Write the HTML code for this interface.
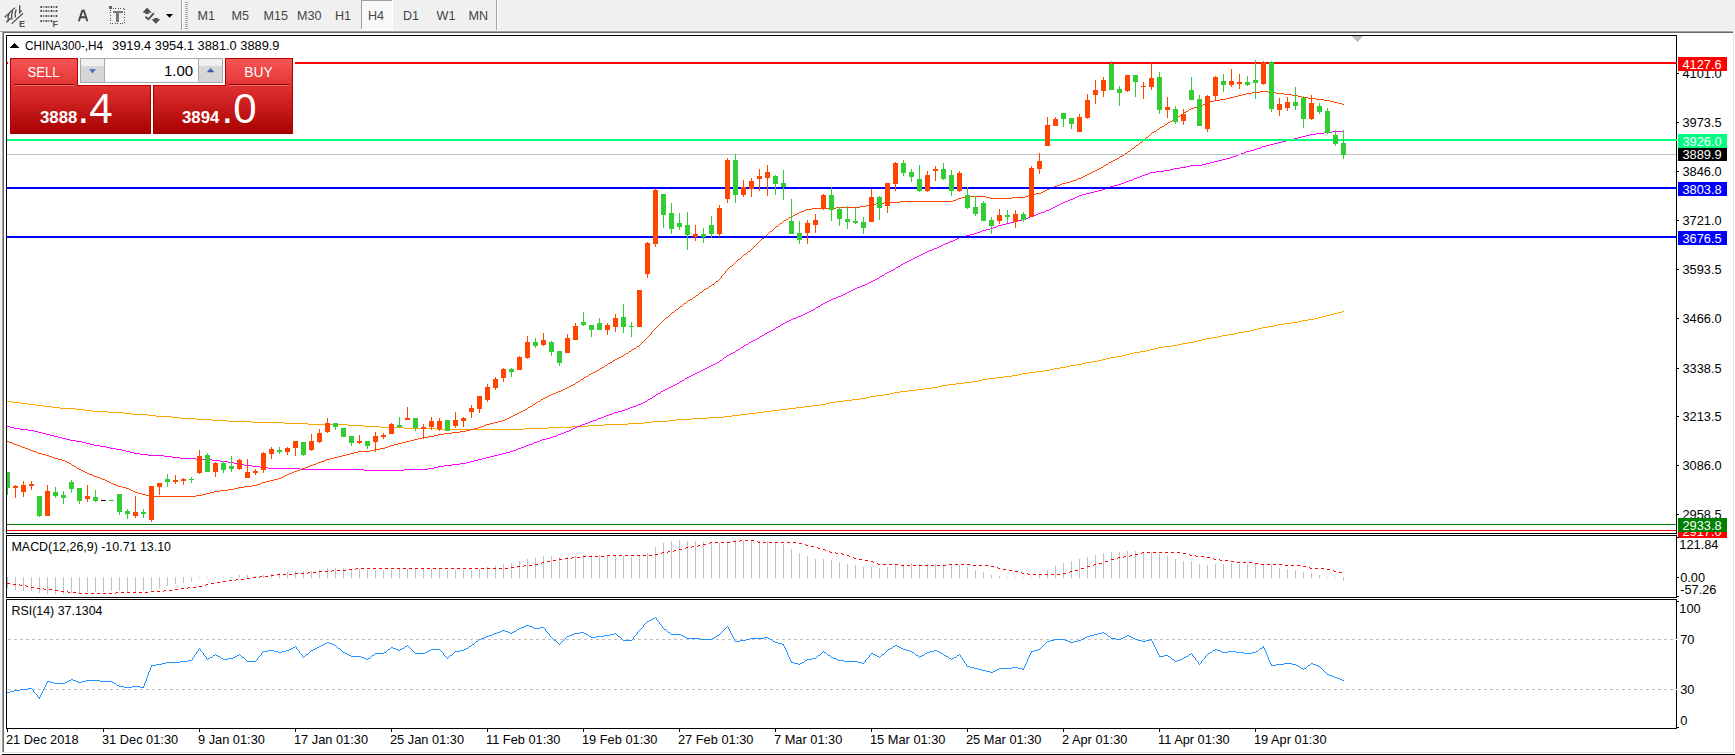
<!DOCTYPE html>
<html><head><meta charset="utf-8"><style>
html,body{margin:0;padding:0;width:1735px;height:755px;overflow:hidden;background:#f0f0f0}
svg{display:block}
text{font-family:'Liberation Sans',sans-serif}
</style></head><body>
<svg width="1735" height="755" viewBox="0 0 1735 755" shape-rendering="crispEdges">
<rect x="0" y="0" width="1735" height="755" fill="#f0f0f0" />
<rect x="4" y="33" width="1729" height="719" fill="#ffffff" />
<rect x="0" y="30" width="1736" height="1" fill="#f6f6f6"/>
<rect x="0" y="31" width="1734" height="1" fill="#a0a0a0"/>
<rect x="3" y="32" width="1730" height="1" fill="#696969"/>
<rect x="2" y="32" width="1" height="721" fill="#a0a0a0"/>
<rect x="3" y="32" width="1" height="720" fill="#696969"/>
<rect x="1" y="32" width="1" height="722" fill="#fbfbfb"/>
<rect x="1733" y="31" width="1" height="722" fill="#e3e3e3"/>
<rect x="2" y="752" width="1732" height="1" fill="#e3e3e3"/>
<rect x="0" y="753" width="1735" height="1" fill="#ffffff"/>
<rect x="1734" y="31" width="1" height="723" fill="#ffffff"/>
<rect x="2" y="754" width="1734" height="1" fill="#000000"/>
<defs><clipPath id="cm"><rect x="7" y="36" width="1669" height="497"/></clipPath><clipPath id="cd"><rect x="7" y="536" width="1669" height="61"/></clipPath><clipPath id="cr"><rect x="7" y="600" width="1669" height="128"/></clipPath></defs>
<g clip-path="url(#cm)">
<path d="M7,401h5v1h-5zM836,401h8v1h-8zM12,402h8v1h-8zM830,402h6v1h-6zM20,403h8v1h-8zM826,403h4v1h-4zM28,404h8v1h-8zM820,404h6v1h-6zM36,405h8v1h-8zM812,405h8v1h-8zM44,406h8v1h-8zM804,406h8v1h-8zM52,407h8v1h-8zM796,407h8v1h-8zM60,408h16v1h-16zM788,408h8v1h-8zM76,409h8v1h-8zM780,409h8v1h-8zM84,410h8v1h-8zM772,410h8v1h-8zM92,411h16v1h-16zM764,411h8v1h-8zM108,412h16v1h-16zM756,412h8v1h-8zM124,413h8v1h-8zM748,413h8v1h-8zM132,414h16v1h-16zM740,414h8v1h-8zM148,415h8v1h-8zM732,415h8v1h-8zM156,416h16v1h-16zM724,416h8v1h-8zM172,417h8v1h-8zM708,417h16v1h-16zM180,418h16v1h-16zM692,418h16v1h-16zM196,419h16v1h-16zM676,419h16v1h-16zM212,420h16v1h-16zM668,420h8v1h-8zM228,421h24v1h-24zM652,421h16v1h-16zM252,422h32v1h-32zM644,422h8v1h-8zM284,423h24v1h-24zM628,423h16v1h-16zM308,424h40v1h-40zM604,424h24v1h-24zM348,425h16v1h-16zM588,425h16v1h-16zM364,426h16v1h-16zM572,426h16v1h-16zM380,427h24v1h-24zM548,427h24v1h-24zM404,428h32v1h-32zM524,428h24v1h-24zM436,429h88v1h-88zM844,400h8v1h-8zM852,399h8v1h-8zM860,398h6v1h-6zM866,397h4v1h-4zM870,396h6v1h-6zM876,395h8v1h-8zM884,394h6v1h-6zM890,393h4v1h-4zM894,392h6v1h-6zM900,391h8v1h-8zM908,390h8v1h-8zM916,389h8v1h-8zM924,388h8v1h-8zM932,387h6v1h-6zM938,386h4v1h-4zM942,385h6v1h-6zM948,384h8v1h-8zM956,383h8v1h-8zM964,382h8v1h-8zM972,381h6v1h-6zM978,380h4v1h-4zM982,379h6v1h-6zM988,378h8v1h-8zM996,377h8v1h-8zM1004,376h8v1h-8zM1012,375h6v1h-6zM1018,374h4v1h-4zM1022,373h6v1h-6zM1028,372h8v1h-8zM1036,371h8v1h-8zM1044,370h6v1h-6zM1050,369h4v1h-4zM1054,368h6v1h-6zM1060,367h6v1h-6zM1066,366h4v1h-4zM1070,365h6v1h-6zM1076,364h6v1h-6zM1082,363h4v1h-4zM1086,362h6v1h-6zM1092,361h6v1h-6zM1098,360h4v1h-4zM1102,359h4v1h-4zM1106,358h4v1h-4zM1110,357h6v1h-6zM1116,356h6v1h-6zM1122,355h4v1h-4zM1126,354h4v1h-4zM1130,353h4v1h-4zM1134,352h6v1h-6zM1140,351h6v1h-6zM1146,350h4v1h-4zM1150,349h4v1h-4zM1154,348h4v1h-4zM1158,347h6v1h-6zM1164,346h8v1h-8zM1172,345h6v1h-6zM1178,344h4v1h-4zM1182,343h6v1h-6zM1188,342h6v1h-6zM1194,341h4v1h-4zM1198,340h4v1h-4zM1202,339h4v1h-4zM1206,338h6v1h-6zM1212,337h6v1h-6zM1218,336h4v1h-4zM1222,335h6v1h-6zM1228,334h6v1h-6zM1234,333h4v1h-4zM1238,332h6v1h-6zM1244,331h6v1h-6zM1250,330h4v1h-4zM1254,329h4v1h-4zM1258,328h4v1h-4zM1262,327h6v1h-6zM1268,326h6v1h-6zM1274,325h4v1h-4zM1278,324h6v1h-6zM1284,323h8v1h-8zM1292,322h6v1h-6zM1298,321h4v1h-4zM1302,320h6v1h-6zM1308,319h6v1h-6zM1314,318h4v1h-4zM1318,317h4v1h-4zM1322,316h4v1h-4zM1326,315h4v1h-4zM1330,314h4v1h-4zM1334,313h4v1h-4zM1338,312h4v1h-4zM1342,311h2v1h-2z" fill="#ffa500" />
<path d="M7,426h3v1h-3zM577,426h3v1h-3zM10,427h4v1h-4zM575,427h2v1h-2zM14,428h6v1h-6zM573,428h2v1h-2zM20,429h8v1h-8zM571,429h2v1h-2zM28,430h6v1h-6zM569,430h2v1h-2zM34,431h4v1h-4zM566,431h3v1h-3zM38,432h4v1h-4zM564,432h2v1h-2zM42,433h4v1h-4zM561,433h3v1h-3zM46,434h4v1h-4zM558,434h3v1h-3zM50,435h4v1h-4zM556,435h2v1h-2zM54,436h4v1h-4zM553,436h3v1h-3zM58,437h4v1h-4zM550,437h3v1h-3zM62,438h4v1h-4zM546,438h4v1h-4zM66,439h4v1h-4zM542,439h4v1h-4zM70,440h6v1h-6zM540,440h2v1h-2zM76,441h6v1h-6zM537,441h3v1h-3zM82,442h4v1h-4zM534,442h3v1h-3zM86,443h4v1h-4zM532,443h2v1h-2zM90,444h4v1h-4zM529,444h3v1h-3zM94,445h6v1h-6zM526,445h3v1h-3zM100,446h6v1h-6zM524,446h2v1h-2zM106,447h4v1h-4zM521,447h3v1h-3zM110,448h6v1h-6zM518,448h3v1h-3zM116,449h6v1h-6zM516,449h2v1h-2zM122,450h4v1h-4zM513,450h3v1h-3zM126,451h4v1h-4zM510,451h3v1h-3zM130,452h4v1h-4zM506,452h4v1h-4zM134,453h6v1h-6zM502,453h4v1h-4zM140,454h8v1h-8zM498,454h4v1h-4zM148,455h16v1h-16zM494,455h4v1h-4zM164,456h8v1h-8zM490,456h4v1h-4zM172,457h8v1h-8zM486,457h4v1h-4zM180,458h16v1h-16zM482,458h4v1h-4zM196,459h16v1h-16zM478,459h4v1h-4zM212,460h8v1h-8zM474,460h4v1h-4zM220,461h8v1h-8zM470,461h4v1h-4zM228,462h6v1h-6zM466,462h4v1h-4zM234,463h4v1h-4zM460,463h6v1h-6zM238,464h6v1h-6zM452,464h8v1h-8zM244,465h8v1h-8zM444,465h8v1h-8zM252,466h8v1h-8zM438,466h6v1h-6zM260,467h8v1h-8zM434,467h4v1h-4zM268,468h32v1h-32zM428,468h6v1h-6zM300,469h64v1h-64zM404,469h24v1h-24zM364,470h40v1h-40zM580,425h2v1h-2zM582,424h3v1h-3zM585,423h3v1h-3zM588,422h2v1h-2zM590,421h3v1h-3zM593,420h3v1h-3zM596,419h2v1h-2zM598,418h3v1h-3zM601,417h3v1h-3zM604,416h2v1h-2zM606,415h3v1h-3zM609,414h3v1h-3zM612,413h2v1h-2zM614,412h4v1h-4zM618,411h4v1h-4zM622,410h3v1h-3zM625,409h3v1h-3zM628,408h2v1h-2zM630,407h3v1h-3zM633,406h3v1h-3zM636,405h2v1h-2zM638,404h3v1h-3zM641,403h2v1h-2zM643,402h2v1h-2zM645,401h2v1h-2zM647,400h1v1h-1zM648,399h2v1h-2zM650,398h2v1h-2zM652,397h1v1h-1zM653,396h2v1h-2zM655,395h1v1h-1zM656,394h2v1h-2zM658,393h2v1h-2zM660,392h1v1h-1zM661,391h2v1h-2zM663,390h2v1h-2zM665,389h2v1h-2zM667,388h2v1h-2zM669,387h2v1h-2zM671,386h2v1h-2zM673,385h2v1h-2zM675,384h2v1h-2zM677,383h2v1h-2zM679,382h1v1h-1zM680,381h2v1h-2zM682,380h2v1h-2zM684,379h1v1h-1zM685,378h2v1h-2zM687,377h2v1h-2zM689,376h2v1h-2zM691,375h2v1h-2zM693,374h2v1h-2zM695,373h2v1h-2zM697,372h2v1h-2zM699,371h2v1h-2zM701,370h2v1h-2zM703,369h2v1h-2zM705,368h2v1h-2zM707,367h2v1h-2zM709,366h2v1h-2zM711,365h2v1h-2zM713,364h2v1h-2zM715,363h2v1h-2zM717,362h2v1h-2zM719,361h1v1h-1zM720,360h2v1h-2zM722,359h1v1h-1zM723,358h1v1h-1zM724,357h2v1h-2zM726,356h1v1h-1zM727,355h2v1h-2zM729,354h2v1h-2zM731,353h2v1h-2zM733,352h2v1h-2zM735,351h1v1h-1zM736,350h2v1h-2zM738,349h2v1h-2zM740,348h1v1h-1zM741,347h2v1h-2zM743,346h1v1h-1zM744,345h2v1h-2zM746,344h2v1h-2zM748,343h1v1h-1zM749,342h2v1h-2zM751,341h2v1h-2zM753,340h2v1h-2zM755,339h2v1h-2zM757,338h2v1h-2zM759,337h1v1h-1zM760,336h2v1h-2zM762,335h2v1h-2zM764,334h1v1h-1zM765,333h2v1h-2zM767,332h2v1h-2zM769,331h2v1h-2zM771,330h2v1h-2zM773,329h2v1h-2zM775,328h1v1h-1zM776,327h2v1h-2zM778,326h2v1h-2zM780,325h1v1h-1zM781,324h2v1h-2zM783,323h2v1h-2zM785,322h2v1h-2zM787,321h2v1h-2zM789,320h2v1h-2zM791,319h2v1h-2zM793,318h3v1h-3zM796,317h2v1h-2zM798,316h3v1h-3zM801,315h2v1h-2zM803,314h2v1h-2zM805,313h2v1h-2zM807,312h2v1h-2zM809,311h2v1h-2zM811,310h2v1h-2zM813,309h2v1h-2zM815,308h1v1h-1zM816,307h2v1h-2zM818,306h2v1h-2zM820,305h1v1h-1zM821,304h2v1h-2zM823,303h2v1h-2zM825,302h2v1h-2zM827,301h2v1h-2zM829,300h2v1h-2zM831,299h2v1h-2zM833,298h3v1h-3zM836,297h2v1h-2zM838,296h3v1h-3zM841,295h2v1h-2zM843,294h2v1h-2zM845,293h2v1h-2zM847,292h2v1h-2zM849,291h2v1h-2zM851,290h2v1h-2zM853,289h2v1h-2zM855,288h2v1h-2zM857,287h3v1h-3zM860,286h2v1h-2zM862,285h3v1h-3zM865,284h2v1h-2zM867,283h2v1h-2zM869,282h2v1h-2zM871,281h2v1h-2zM873,280h2v1h-2zM875,279h2v1h-2zM877,278h2v1h-2zM879,277h1v1h-1zM880,276h2v1h-2zM882,275h2v1h-2zM884,274h1v1h-1zM885,273h2v1h-2zM887,272h2v1h-2zM889,271h2v1h-2zM891,270h2v1h-2zM893,269h2v1h-2zM895,268h1v1h-1zM896,267h2v1h-2zM898,266h2v1h-2zM900,265h1v1h-1zM901,264h2v1h-2zM903,263h2v1h-2zM905,262h2v1h-2zM907,261h2v1h-2zM909,260h2v1h-2zM911,259h2v1h-2zM913,258h2v1h-2zM915,257h2v1h-2zM917,256h2v1h-2zM919,255h2v1h-2zM921,254h2v1h-2zM923,253h2v1h-2zM925,252h2v1h-2zM927,251h2v1h-2zM929,250h3v1h-3zM932,249h2v1h-2zM934,248h3v1h-3zM937,247h2v1h-2zM939,246h2v1h-2zM941,245h2v1h-2zM943,244h2v1h-2zM945,243h3v1h-3zM948,242h2v1h-2zM950,241h3v1h-3zM953,240h2v1h-2zM955,239h2v1h-2zM957,238h2v1h-2zM959,237h3v1h-3zM962,236h4v1h-4zM966,235h4v1h-4zM970,234h4v1h-4zM974,233h3v1h-3zM977,232h3v1h-3zM980,231h2v1h-2zM982,230h4v1h-4zM986,229h4v1h-4zM990,228h3v1h-3zM993,227h3v1h-3zM996,226h2v1h-2zM998,225h4v1h-4zM1002,224h4v1h-4zM1006,223h4v1h-4zM1010,222h4v1h-4zM1014,221h4v1h-4zM1018,220h4v1h-4zM1022,219h3v1h-3zM1025,218h3v1h-3zM1028,217h2v1h-2zM1030,216h3v1h-3zM1033,215h3v1h-3zM1036,214h2v1h-2zM1038,213h3v1h-3zM1041,212h3v1h-3zM1044,211h2v1h-2zM1046,210h3v1h-3zM1049,209h2v1h-2zM1051,208h2v1h-2zM1053,207h2v1h-2zM1055,206h2v1h-2zM1057,205h2v1h-2zM1059,204h2v1h-2zM1061,203h2v1h-2zM1063,202h2v1h-2zM1065,201h3v1h-3zM1068,200h2v1h-2zM1070,199h3v1h-3zM1073,198h2v1h-2zM1075,197h2v1h-2zM1077,196h2v1h-2zM1079,195h3v1h-3zM1082,194h4v1h-4zM1086,193h4v1h-4zM1090,192h4v1h-4zM1094,191h4v1h-4zM1098,190h4v1h-4zM1102,189h3v1h-3zM1105,188h3v1h-3zM1108,187h2v1h-2zM1110,186h4v1h-4zM1114,185h4v1h-4zM1118,184h3v1h-3zM1121,183h3v1h-3zM1124,182h2v1h-2zM1126,181h3v1h-3zM1129,180h3v1h-3zM1132,179h2v1h-2zM1134,178h3v1h-3zM1137,177h3v1h-3zM1140,176h2v1h-2zM1142,175h3v1h-3zM1145,174h3v1h-3zM1148,173h2v1h-2zM1150,172h6v1h-6zM1156,171h8v1h-8zM1164,170h6v1h-6zM1170,169h4v1h-4zM1174,168h6v1h-6zM1180,167h6v1h-6zM1186,166h4v1h-4zM1190,165h12v1h-12zM1202,164h4v1h-4zM1206,163h4v1h-4zM1210,162h4v1h-4zM1214,161h4v1h-4zM1218,160h4v1h-4zM1222,159h4v1h-4zM1226,158h4v1h-4zM1230,157h3v1h-3zM1233,156h3v1h-3zM1236,155h2v1h-2zM1238,154h3v1h-3zM1241,153h3v1h-3zM1244,152h2v1h-2zM1246,151h4v1h-4zM1250,150h4v1h-4zM1254,149h3v1h-3zM1257,148h3v1h-3zM1260,147h2v1h-2zM1262,146h4v1h-4zM1266,145h4v1h-4zM1270,144h4v1h-4zM1274,143h4v1h-4zM1278,142h4v1h-4zM1282,141h4v1h-4zM1286,140h4v1h-4zM1290,139h4v1h-4zM1294,138h4v1h-4zM1298,137h4v1h-4zM1302,136h4v1h-4zM1306,135h4v1h-4zM1310,134h6v1h-6zM1316,133h8v1h-8zM1324,132h8v1h-8zM1332,131h12v1h-12z" fill="#ff00ff" />
<path d="M7,441h2v1h-2zM406,441h4v1h-4zM9,442h3v1h-3zM402,442h4v1h-4zM12,443h2v1h-2zM398,443h4v1h-4zM14,444h3v1h-3zM394,444h4v1h-4zM17,445h3v1h-3zM390,445h4v1h-4zM20,446h2v1h-2zM388,446h2v1h-2zM22,447h3v1h-3zM385,447h3v1h-3zM25,448h3v1h-3zM380,448h5v1h-5zM28,449h2v1h-2zM374,449h6v1h-6zM30,450h3v1h-3zM370,450h4v1h-4zM33,451h3v1h-3zM358,451h12v1h-12zM36,452h2v1h-2zM354,452h4v1h-4zM38,453h4v1h-4zM350,453h4v1h-4zM42,454h4v1h-4zM346,454h4v1h-4zM46,455h3v1h-3zM342,455h4v1h-4zM49,456h3v1h-3zM338,456h4v1h-4zM52,457h2v1h-2zM334,457h4v1h-4zM54,458h4v1h-4zM330,458h4v1h-4zM58,459h4v1h-4zM326,459h4v1h-4zM62,460h3v1h-3zM324,460h2v1h-2zM65,461h2v1h-2zM321,461h3v1h-3zM67,462h2v1h-2zM318,462h3v1h-3zM69,463h2v1h-2zM316,463h2v1h-2zM71,464h1v1h-1zM313,464h3v1h-3zM72,465h2v1h-2zM310,465h3v1h-3zM74,466h2v1h-2zM308,466h2v1h-2zM76,467h1v1h-1zM305,467h3v1h-3zM77,468h2v1h-2zM302,468h3v1h-3zM79,469h2v1h-2zM300,469h2v1h-2zM81,470h2v1h-2zM297,470h3v1h-3zM83,471h2v1h-2zM294,471h3v1h-3zM85,472h2v1h-2zM292,472h2v1h-2zM87,473h2v1h-2zM289,473h3v1h-3zM89,474h3v1h-3zM287,474h2v1h-2zM92,475h2v1h-2zM285,475h2v1h-2zM94,476h3v1h-3zM283,476h2v1h-2zM97,477h3v1h-3zM281,477h2v1h-2zM100,478h2v1h-2zM278,478h3v1h-3zM102,479h3v1h-3zM274,479h4v1h-4zM105,480h2v1h-2zM270,480h4v1h-4zM107,481h2v1h-2zM266,481h4v1h-4zM109,482h2v1h-2zM262,482h4v1h-4zM111,483h2v1h-2zM260,483h2v1h-2zM113,484h3v1h-3zM257,484h3v1h-3zM116,485h2v1h-2zM252,485h5v1h-5zM118,486h4v1h-4zM244,486h8v1h-8zM122,487h4v1h-4zM238,487h6v1h-6zM126,488h3v1h-3zM234,488h4v1h-4zM129,489h2v1h-2zM228,489h6v1h-6zM131,490h2v1h-2zM220,490h8v1h-8zM133,491h2v1h-2zM214,491h6v1h-6zM135,492h3v1h-3zM210,492h4v1h-4zM138,493h4v1h-4zM206,493h4v1h-4zM142,494h4v1h-4zM202,494h4v1h-4zM146,495h4v1h-4zM196,495h6v1h-6zM150,496h46v1h-46zM410,440h4v1h-4zM414,439h4v1h-4zM418,438h4v1h-4zM422,437h6v1h-6zM428,436h6v1h-6zM434,435h4v1h-4zM438,434h6v1h-6zM444,433h8v1h-8zM452,432h8v1h-8zM460,431h6v1h-6zM466,430h4v1h-4zM470,429h4v1h-4zM474,428h4v1h-4zM478,427h3v1h-3zM481,426h3v1h-3zM484,425h2v1h-2zM486,424h4v1h-4zM490,423h4v1h-4zM494,422h4v1h-4zM498,421h4v1h-4zM502,420h3v1h-3zM505,419h2v1h-2zM507,418h2v1h-2zM509,417h2v1h-2zM511,416h2v1h-2zM513,415h2v1h-2zM515,414h2v1h-2zM517,413h2v1h-2zM519,412h2v1h-2zM521,411h2v1h-2zM523,410h2v1h-2zM525,409h2v1h-2zM527,408h1v1h-1zM528,407h2v1h-2zM530,406h2v1h-2zM532,405h1v1h-1zM533,404h2v1h-2zM535,403h1v1h-1zM536,402h2v1h-2zM538,401h2v1h-2zM540,400h1v1h-1zM541,399h2v1h-2zM543,398h2v1h-2zM545,397h2v1h-2zM547,396h2v1h-2zM549,395h2v1h-2zM551,394h2v1h-2zM553,393h3v1h-3zM556,392h2v1h-2zM558,391h3v1h-3zM561,390h2v1h-2zM563,389h2v1h-2zM565,388h2v1h-2zM567,387h2v1h-2zM569,386h2v1h-2zM571,385h2v1h-2zM573,384h2v1h-2zM575,383h1v1h-1zM576,382h2v1h-2zM578,381h2v1h-2zM580,380h1v1h-1zM581,379h2v1h-2zM583,378h1v1h-1zM584,377h2v1h-2zM586,376h2v1h-2zM588,375h1v1h-1zM589,374h2v1h-2zM591,373h2v1h-2zM593,372h2v1h-2zM595,371h2v1h-2zM597,370h2v1h-2zM599,369h1v1h-1zM600,368h2v1h-2zM602,367h2v1h-2zM604,366h1v1h-1zM605,365h2v1h-2zM607,364h1v1h-1zM608,363h2v1h-2zM610,362h2v1h-2zM612,361h1v1h-1zM613,360h2v1h-2zM615,359h2v1h-2zM617,358h2v1h-2zM619,357h2v1h-2zM621,356h2v1h-2zM623,355h1v1h-1zM624,354h2v1h-2zM626,353h2v1h-2zM628,352h1v1h-1zM629,351h2v1h-2zM631,350h1v1h-1zM632,349h2v1h-2zM634,348h2v1h-2zM636,347h1v1h-1zM637,346h2v1h-2zM639,345h1v1h-1zM640,344h1v1h-1zM641,343h1v1h-1zM642,342h1v1h-1zM643,341h1v1h-1zM644,340h1v1h-1zM645,339h1v1h-1zM646,338h1v1h-1zM647,337h1v1h-1zM648,336h1v1h-1zM649,335h1v1h-1zM650,334h1v1h-1zM651,333h1v1h-1zM651,332h1v1h-1zM652,331h1v1h-1zM653,330h1v1h-1zM654,329h1v1h-1zM655,328h1v1h-1zM656,327h1v1h-1zM657,326h1v1h-1zM658,325h1v1h-1zM659,324h1v1h-1zM660,323h1v1h-1zM661,322h1v1h-1zM662,321h1v1h-1zM663,320h1v1h-1zM664,319h1v1h-1zM665,318h1v1h-1zM666,317h2v1h-2zM668,316h1v1h-1zM669,315h1v1h-1zM670,314h1v1h-1zM671,313h1v1h-1zM672,312h2v1h-2zM674,311h1v1h-1zM675,310h1v1h-1zM676,309h2v1h-2zM678,308h1v1h-1zM679,307h1v1h-1zM680,306h2v1h-2zM682,305h1v1h-1zM683,304h1v1h-1zM684,303h2v1h-2zM686,302h1v1h-1zM687,301h1v1h-1zM688,300h2v1h-2zM690,299h2v1h-2zM692,298h1v1h-1zM693,297h2v1h-2zM695,296h1v1h-1zM696,295h2v1h-2zM698,294h1v1h-1zM699,293h1v1h-1zM700,292h2v1h-2zM702,291h1v1h-1zM703,290h1v1h-1zM704,289h2v1h-2zM706,288h2v1h-2zM708,287h1v1h-1zM709,286h2v1h-2zM711,285h1v1h-1zM712,284h2v1h-2zM714,283h1v1h-1zM715,282h1v1h-1zM716,281h2v1h-2zM718,280h1v1h-1zM719,279h1v1h-1zM720,278h1v1h-1zM721,277h1v1h-1zM721,276h1v1h-1zM722,275h1v1h-1zM723,274h1v1h-1zM724,273h1v1h-1zM725,272h1v1h-1zM725,271h1v1h-1zM726,270h1v1h-1zM727,269h1v1h-1zM728,268h1v1h-1zM729,267h1v1h-1zM730,266h2v1h-2zM732,265h1v1h-1zM733,264h1v1h-1zM734,263h1v1h-1zM735,262h1v1h-1zM736,261h1v1h-1zM737,260h1v1h-1zM738,259h2v1h-2zM740,258h1v1h-1zM741,257h1v1h-1zM742,256h1v1h-1zM743,255h1v1h-1zM744,254h2v1h-2zM746,253h1v1h-1zM747,252h1v1h-1zM748,251h2v1h-2zM750,250h1v1h-1zM751,249h1v1h-1zM752,248h1v1h-1zM753,247h1v1h-1zM754,246h1v1h-1zM755,245h1v1h-1zM756,244h1v1h-1zM757,243h1v1h-1zM758,242h1v1h-1zM759,241h1v1h-1zM760,240h1v1h-1zM761,239h1v1h-1zM762,238h2v1h-2zM764,237h1v1h-1zM765,236h1v1h-1zM766,235h1v1h-1zM767,234h1v1h-1zM768,233h1v1h-1zM769,232h1v1h-1zM770,231h2v1h-2zM772,230h1v1h-1zM773,229h1v1h-1zM774,228h1v1h-1zM775,227h1v1h-1zM776,226h2v1h-2zM778,225h1v1h-1zM779,224h1v1h-1zM780,223h2v1h-2zM782,222h1v1h-1zM783,221h1v1h-1zM784,220h2v1h-2zM786,219h2v1h-2zM788,218h1v1h-1zM789,217h2v1h-2zM791,216h2v1h-2zM793,215h2v1h-2zM795,214h2v1h-2zM797,213h2v1h-2zM799,212h2v1h-2zM801,211h3v1h-3zM804,210h2v1h-2zM806,209h6v1h-6zM812,208h24v1h-24zM836,207h24v1h-24zM860,206h6v1h-6zM866,205h4v1h-4zM870,204h6v1h-6zM876,203h8v1h-8zM884,202h16v1h-16zM900,201h53v1h-53zM953,200h3v1h-3zM956,199h2v1h-2zM958,198h4v1h-4zM990,198h22v1h-22zM962,197h4v1h-4zM986,197h4v1h-4zM1012,197h13v1h-13zM966,196h20v1h-20zM1025,196h3v1h-3zM1028,195h2v1h-2zM1030,194h6v1h-6zM1036,193h5v1h-5zM1041,192h2v1h-2zM1043,191h2v1h-2zM1045,190h2v1h-2zM1047,189h2v1h-2zM1049,188h3v1h-3zM1052,187h2v1h-2zM1054,186h3v1h-3zM1057,185h3v1h-3zM1060,184h2v1h-2zM1062,183h4v1h-4zM1066,182h4v1h-4zM1070,181h3v1h-3zM1073,180h3v1h-3zM1076,179h2v1h-2zM1078,178h3v1h-3zM1081,177h2v1h-2zM1083,176h2v1h-2zM1085,175h2v1h-2zM1087,174h2v1h-2zM1089,173h2v1h-2zM1091,172h2v1h-2zM1093,171h2v1h-2zM1095,170h2v1h-2zM1097,169h2v1h-2zM1099,168h2v1h-2zM1101,167h2v1h-2zM1103,166h1v1h-1zM1104,165h2v1h-2zM1106,164h2v1h-2zM1108,163h1v1h-1zM1109,162h2v1h-2zM1111,161h2v1h-2zM1113,160h2v1h-2zM1115,159h2v1h-2zM1117,158h2v1h-2zM1119,157h1v1h-1zM1120,156h2v1h-2zM1122,155h2v1h-2zM1124,154h1v1h-1zM1125,153h2v1h-2zM1127,152h1v1h-1zM1128,151h2v1h-2zM1130,150h1v1h-1zM1131,149h1v1h-1zM1132,148h2v1h-2zM1134,147h1v1h-1zM1135,146h1v1h-1zM1136,145h2v1h-2zM1138,144h1v1h-1zM1139,143h1v1h-1zM1140,142h2v1h-2zM1142,141h1v1h-1zM1143,140h1v1h-1zM1144,139h1v1h-1zM1145,138h1v1h-1zM1146,137h2v1h-2zM1148,136h1v1h-1zM1149,135h1v1h-1zM1150,134h1v1h-1zM1151,133h1v1h-1zM1152,132h2v1h-2zM1154,131h2v1h-2zM1156,130h1v1h-1zM1157,129h2v1h-2zM1159,128h1v1h-1zM1160,127h2v1h-2zM1162,126h2v1h-2zM1164,125h1v1h-1zM1165,124h2v1h-2zM1167,123h1v1h-1zM1168,122h2v1h-2zM1170,121h2v1h-2zM1172,120h1v1h-1zM1173,119h2v1h-2zM1175,118h1v1h-1zM1176,117h2v1h-2zM1178,116h2v1h-2zM1180,115h1v1h-1zM1181,114h2v1h-2zM1183,113h1v1h-1zM1184,112h2v1h-2zM1186,111h2v1h-2zM1188,110h1v1h-1zM1189,109h2v1h-2zM1191,108h3v1h-3zM1194,107h4v1h-4zM1198,106h3v1h-3zM1201,105h2v1h-2zM1203,104h2v1h-2zM1342,104h2v1h-2zM1205,103h2v1h-2zM1338,103h4v1h-4zM1207,102h3v1h-3zM1334,102h4v1h-4zM1210,101h4v1h-4zM1330,101h4v1h-4zM1214,100h6v1h-6zM1324,100h6v1h-6zM1220,99h6v1h-6zM1316,99h8v1h-8zM1226,98h4v1h-4zM1308,98h8v1h-8zM1230,97h4v1h-4zM1302,97h6v1h-6zM1234,96h4v1h-4zM1298,96h4v1h-4zM1238,95h4v1h-4zM1292,95h6v1h-6zM1242,94h4v1h-4zM1284,94h8v1h-8zM1246,93h6v1h-6zM1276,93h8v1h-8zM1252,92h8v1h-8zM1268,92h8v1h-8zM1260,91h8v1h-8z" fill="#ff4500" />
<rect x="7" y="62" width="1670" height="2" fill="#ff0000" />
<rect x="7" y="139" width="1670" height="2" fill="#00ff7f" />
<rect x="7" y="154" width="1669" height="1" fill="#c0c0c0"/>
<rect x="7" y="187" width="1670" height="2" fill="#0000ff" />
<rect x="7" y="236" width="1670" height="2" fill="#0000ff" />
<rect x="7" y="524" width="1669" height="1" fill="#008000"/>
<rect x="7" y="530" width="1669" height="1" fill="#ff0000"/>
<rect x="7" y="472" width="1" height="23" fill="#32cd32"/>
<rect x="5" y="472" width="5" height="16" fill="#32cd32"/>
<rect x="15" y="485" width="1" height="13" fill="#ff4500"/>
<rect x="13" y="486" width="5" height="2" fill="#ff4500"/>
<rect x="23" y="481" width="1" height="16" fill="#ff4500"/>
<rect x="21" y="485" width="5" height="7" fill="#ff4500"/>
<rect x="31" y="481" width="1" height="9" fill="#ff4500"/>
<rect x="29" y="484" width="5" height="2" fill="#ff4500"/>
<rect x="39" y="496" width="1" height="21" fill="#32cd32"/>
<rect x="37" y="496" width="5" height="20" fill="#32cd32"/>
<rect x="47" y="485" width="1" height="31" fill="#ff4500"/>
<rect x="45" y="491" width="5" height="25" fill="#ff4500"/>
<rect x="55" y="487" width="1" height="11" fill="#32cd32"/>
<rect x="53" y="492" width="5" height="4" fill="#32cd32"/>
<rect x="63" y="491" width="1" height="13" fill="#32cd32"/>
<rect x="61" y="495" width="5" height="3" fill="#32cd32"/>
<rect x="71" y="480" width="1" height="13" fill="#32cd32"/>
<rect x="69" y="482" width="5" height="7" fill="#32cd32"/>
<rect x="79" y="488" width="1" height="16" fill="#32cd32"/>
<rect x="77" y="488" width="5" height="13" fill="#32cd32"/>
<rect x="87" y="485" width="1" height="17" fill="#ff4500"/>
<rect x="85" y="496" width="5" height="3" fill="#ff4500"/>
<rect x="95" y="490" width="1" height="12" fill="#32cd32"/>
<rect x="93" y="497" width="5" height="4" fill="#32cd32"/>
<rect x="101" y="500" width="5" height="1" fill="#000000"/>
<rect x="109" y="500" width="5" height="1" fill="#32cd32"/>
<rect x="119" y="494" width="1" height="21" fill="#32cd32"/>
<rect x="117" y="494" width="5" height="18" fill="#32cd32"/>
<rect x="127" y="509" width="1" height="10" fill="#32cd32"/>
<rect x="125" y="511" width="5" height="3" fill="#32cd32"/>
<rect x="135" y="496" width="1" height="22" fill="#ff4500"/>
<rect x="133" y="512" width="5" height="4" fill="#ff4500"/>
<rect x="143" y="509" width="1" height="9" fill="#32cd32"/>
<rect x="141" y="512" width="5" height="2" fill="#32cd32"/>
<rect x="151" y="486" width="1" height="36" fill="#ff4500"/>
<rect x="149" y="486" width="5" height="34" fill="#ff4500"/>
<rect x="159" y="483" width="1" height="12" fill="#ff4500"/>
<rect x="157" y="483" width="5" height="4" fill="#ff4500"/>
<rect x="167" y="474" width="1" height="13" fill="#32cd32"/>
<rect x="165" y="479" width="5" height="3" fill="#32cd32"/>
<rect x="175" y="475" width="1" height="9" fill="#ff4500"/>
<rect x="173" y="480" width="5" height="2" fill="#ff4500"/>
<rect x="183" y="478" width="1" height="7" fill="#ff4500"/>
<rect x="181" y="479" width="5" height="2" fill="#ff4500"/>
<rect x="191" y="477" width="1" height="6" fill="#32cd32"/>
<rect x="189" y="479" width="5" height="1" fill="#32cd32"/>
<rect x="199" y="450" width="1" height="24" fill="#ff4500"/>
<rect x="197" y="456" width="5" height="17" fill="#ff4500"/>
<rect x="207" y="453" width="1" height="19" fill="#32cd32"/>
<rect x="205" y="455" width="5" height="17" fill="#32cd32"/>
<rect x="215" y="462" width="1" height="15" fill="#ff4500"/>
<rect x="213" y="463" width="5" height="9" fill="#ff4500"/>
<rect x="223" y="461" width="1" height="12" fill="#32cd32"/>
<rect x="221" y="463" width="5" height="7" fill="#32cd32"/>
<rect x="231" y="456" width="1" height="16" fill="#32cd32"/>
<rect x="229" y="466" width="5" height="3" fill="#32cd32"/>
<rect x="239" y="459" width="1" height="11" fill="#ff4500"/>
<rect x="237" y="460" width="5" height="9" fill="#ff4500"/>
<rect x="247" y="459" width="1" height="19" fill="#ff4500"/>
<rect x="245" y="472" width="5" height="6" fill="#ff4500"/>
<rect x="255" y="469" width="1" height="6" fill="#ff4500"/>
<rect x="253" y="471" width="5" height="2" fill="#ff4500"/>
<rect x="263" y="452" width="1" height="21" fill="#ff4500"/>
<rect x="261" y="453" width="5" height="17" fill="#ff4500"/>
<rect x="271" y="447" width="1" height="12" fill="#ff4500"/>
<rect x="269" y="449" width="5" height="5" fill="#ff4500"/>
<rect x="279" y="447" width="1" height="7" fill="#32cd32"/>
<rect x="277" y="450" width="5" height="2" fill="#32cd32"/>
<rect x="287" y="447" width="1" height="8" fill="#ff4500"/>
<rect x="285" y="448" width="5" height="4" fill="#ff4500"/>
<rect x="295" y="441" width="1" height="15" fill="#ff4500"/>
<rect x="293" y="441" width="5" height="7" fill="#ff4500"/>
<rect x="303" y="442" width="1" height="14" fill="#32cd32"/>
<rect x="301" y="442" width="5" height="13" fill="#32cd32"/>
<rect x="311" y="434" width="1" height="17" fill="#ff4500"/>
<rect x="309" y="441" width="5" height="9" fill="#ff4500"/>
<rect x="319" y="429" width="1" height="14" fill="#ff4500"/>
<rect x="317" y="433" width="5" height="9" fill="#ff4500"/>
<rect x="327" y="418" width="1" height="15" fill="#ff4500"/>
<rect x="325" y="423" width="5" height="9" fill="#ff4500"/>
<rect x="335" y="423" width="1" height="7" fill="#32cd32"/>
<rect x="333" y="423" width="5" height="4" fill="#32cd32"/>
<rect x="343" y="428" width="1" height="9" fill="#32cd32"/>
<rect x="341" y="428" width="5" height="9" fill="#32cd32"/>
<rect x="351" y="436" width="1" height="10" fill="#32cd32"/>
<rect x="349" y="436" width="5" height="7" fill="#32cd32"/>
<rect x="359" y="435" width="1" height="9" fill="#ff4500"/>
<rect x="357" y="441" width="5" height="2" fill="#ff4500"/>
<rect x="367" y="441" width="1" height="8" fill="#32cd32"/>
<rect x="365" y="441" width="5" height="5" fill="#32cd32"/>
<rect x="375" y="432" width="1" height="20" fill="#ff4500"/>
<rect x="373" y="436" width="5" height="6" fill="#ff4500"/>
<rect x="383" y="433" width="1" height="6" fill="#ff4500"/>
<rect x="381" y="435" width="5" height="2" fill="#ff4500"/>
<rect x="391" y="423" width="1" height="11" fill="#ff4500"/>
<rect x="389" y="424" width="5" height="10" fill="#ff4500"/>
<rect x="399" y="417" width="1" height="11" fill="#32cd32"/>
<rect x="397" y="425" width="5" height="2" fill="#32cd32"/>
<rect x="407" y="407" width="1" height="13" fill="#ff4500"/>
<rect x="405" y="418" width="5" height="2" fill="#ff4500"/>
<rect x="415" y="418" width="1" height="13" fill="#32cd32"/>
<rect x="413" y="418" width="5" height="10" fill="#32cd32"/>
<rect x="423" y="424" width="1" height="15" fill="#ff4500"/>
<rect x="421" y="427" width="5" height="2" fill="#ff4500"/>
<rect x="431" y="417" width="1" height="13" fill="#ff4500"/>
<rect x="429" y="421" width="5" height="6" fill="#ff4500"/>
<rect x="439" y="418" width="1" height="13" fill="#ff4500"/>
<rect x="437" y="421" width="5" height="8" fill="#ff4500"/>
<rect x="447" y="420" width="1" height="11" fill="#32cd32"/>
<rect x="445" y="420" width="5" height="11" fill="#32cd32"/>
<rect x="455" y="412" width="1" height="16" fill="#ff4500"/>
<rect x="453" y="420" width="5" height="6" fill="#ff4500"/>
<rect x="463" y="417" width="1" height="10" fill="#ff4500"/>
<rect x="461" y="418" width="5" height="3" fill="#ff4500"/>
<rect x="471" y="405" width="1" height="13" fill="#ff4500"/>
<rect x="469" y="408" width="5" height="4" fill="#ff4500"/>
<rect x="479" y="396" width="1" height="17" fill="#ff4500"/>
<rect x="477" y="396" width="5" height="13" fill="#ff4500"/>
<rect x="487" y="384" width="1" height="18" fill="#ff4500"/>
<rect x="485" y="387" width="5" height="13" fill="#ff4500"/>
<rect x="495" y="377" width="1" height="13" fill="#ff4500"/>
<rect x="493" y="379" width="5" height="9" fill="#ff4500"/>
<rect x="503" y="368" width="1" height="14" fill="#ff4500"/>
<rect x="501" y="369" width="5" height="9" fill="#ff4500"/>
<rect x="511" y="368" width="1" height="9" fill="#32cd32"/>
<rect x="509" y="369" width="5" height="3" fill="#32cd32"/>
<rect x="519" y="356" width="1" height="14" fill="#ff4500"/>
<rect x="517" y="357" width="5" height="13" fill="#ff4500"/>
<rect x="527" y="336" width="1" height="23" fill="#ff4500"/>
<rect x="525" y="342" width="5" height="16" fill="#ff4500"/>
<rect x="535" y="338" width="1" height="10" fill="#32cd32"/>
<rect x="533" y="342" width="5" height="4" fill="#32cd32"/>
<rect x="543" y="333" width="1" height="13" fill="#ff4500"/>
<rect x="541" y="340" width="5" height="5" fill="#ff4500"/>
<rect x="551" y="341" width="1" height="15" fill="#32cd32"/>
<rect x="549" y="342" width="5" height="10" fill="#32cd32"/>
<rect x="559" y="351" width="1" height="15" fill="#32cd32"/>
<rect x="557" y="351" width="5" height="12" fill="#32cd32"/>
<rect x="567" y="334" width="1" height="19" fill="#ff4500"/>
<rect x="565" y="338" width="5" height="15" fill="#ff4500"/>
<rect x="575" y="323" width="1" height="17" fill="#ff4500"/>
<rect x="573" y="326" width="5" height="14" fill="#ff4500"/>
<rect x="583" y="312" width="1" height="14" fill="#32cd32"/>
<rect x="581" y="322" width="5" height="3" fill="#32cd32"/>
<rect x="591" y="325" width="1" height="12" fill="#32cd32"/>
<rect x="589" y="325" width="5" height="5" fill="#32cd32"/>
<rect x="599" y="318" width="1" height="12" fill="#32cd32"/>
<rect x="597" y="323" width="5" height="7" fill="#32cd32"/>
<rect x="607" y="323" width="1" height="12" fill="#ff4500"/>
<rect x="605" y="325" width="5" height="5" fill="#ff4500"/>
<rect x="615" y="314" width="1" height="18" fill="#ff4500"/>
<rect x="613" y="318" width="5" height="9" fill="#ff4500"/>
<rect x="623" y="304" width="1" height="29" fill="#32cd32"/>
<rect x="621" y="317" width="5" height="10" fill="#32cd32"/>
<rect x="631" y="322" width="1" height="15" fill="#32cd32"/>
<rect x="629" y="326" width="5" height="1" fill="#32cd32"/>
<rect x="639" y="290" width="1" height="37" fill="#ff4500"/>
<rect x="637" y="290" width="5" height="37" fill="#ff4500"/>
<rect x="647" y="242" width="1" height="36" fill="#ff4500"/>
<rect x="645" y="243" width="5" height="31" fill="#ff4500"/>
<rect x="655" y="189" width="1" height="58" fill="#ff4500"/>
<rect x="653" y="190" width="5" height="54" fill="#ff4500"/>
<rect x="663" y="194" width="1" height="34" fill="#32cd32"/>
<rect x="661" y="194" width="5" height="21" fill="#32cd32"/>
<rect x="671" y="203" width="1" height="31" fill="#32cd32"/>
<rect x="669" y="213" width="5" height="16" fill="#32cd32"/>
<rect x="679" y="213" width="1" height="17" fill="#32cd32"/>
<rect x="677" y="223" width="5" height="4" fill="#32cd32"/>
<rect x="687" y="212" width="1" height="38" fill="#32cd32"/>
<rect x="685" y="225" width="5" height="10" fill="#32cd32"/>
<rect x="695" y="225" width="1" height="16" fill="#ff4500"/>
<rect x="693" y="234" width="5" height="3" fill="#ff4500"/>
<rect x="703" y="228" width="1" height="15" fill="#32cd32"/>
<rect x="701" y="234" width="5" height="3" fill="#32cd32"/>
<rect x="711" y="216" width="1" height="22" fill="#32cd32"/>
<rect x="709" y="225" width="5" height="9" fill="#32cd32"/>
<rect x="719" y="205" width="1" height="32" fill="#ff4500"/>
<rect x="717" y="208" width="5" height="26" fill="#ff4500"/>
<rect x="727" y="158" width="1" height="45" fill="#ff4500"/>
<rect x="725" y="160" width="5" height="39" fill="#ff4500"/>
<rect x="735" y="154" width="1" height="49" fill="#32cd32"/>
<rect x="733" y="160" width="5" height="35" fill="#32cd32"/>
<rect x="743" y="180" width="1" height="17" fill="#ff4500"/>
<rect x="741" y="187" width="5" height="8" fill="#ff4500"/>
<rect x="751" y="178" width="1" height="19" fill="#ff4500"/>
<rect x="749" y="181" width="5" height="8" fill="#ff4500"/>
<rect x="759" y="169" width="1" height="22" fill="#ff4500"/>
<rect x="757" y="176" width="5" height="3" fill="#ff4500"/>
<rect x="767" y="165" width="1" height="31" fill="#ff4500"/>
<rect x="765" y="172" width="5" height="6" fill="#ff4500"/>
<rect x="775" y="175" width="1" height="20" fill="#32cd32"/>
<rect x="773" y="176" width="5" height="8" fill="#32cd32"/>
<rect x="783" y="170" width="1" height="30" fill="#32cd32"/>
<rect x="781" y="183" width="5" height="4" fill="#32cd32"/>
<rect x="791" y="199" width="1" height="35" fill="#32cd32"/>
<rect x="789" y="221" width="5" height="13" fill="#32cd32"/>
<rect x="799" y="221" width="1" height="23" fill="#32cd32"/>
<rect x="797" y="233" width="5" height="7" fill="#32cd32"/>
<rect x="807" y="220" width="1" height="24" fill="#ff4500"/>
<rect x="805" y="223" width="5" height="10" fill="#ff4500"/>
<rect x="815" y="214" width="1" height="19" fill="#ff4500"/>
<rect x="813" y="220" width="5" height="5" fill="#ff4500"/>
<rect x="823" y="194" width="1" height="16" fill="#ff4500"/>
<rect x="821" y="195" width="5" height="14" fill="#ff4500"/>
<rect x="831" y="187" width="1" height="34" fill="#32cd32"/>
<rect x="829" y="195" width="5" height="15" fill="#32cd32"/>
<rect x="839" y="207" width="1" height="19" fill="#32cd32"/>
<rect x="837" y="209" width="5" height="10" fill="#32cd32"/>
<rect x="847" y="206" width="1" height="23" fill="#32cd32"/>
<rect x="845" y="219" width="5" height="3" fill="#32cd32"/>
<rect x="855" y="208" width="1" height="16" fill="#32cd32"/>
<rect x="853" y="221" width="5" height="2" fill="#32cd32"/>
<rect x="863" y="217" width="1" height="17" fill="#32cd32"/>
<rect x="861" y="222" width="5" height="6" fill="#32cd32"/>
<rect x="871" y="189" width="1" height="33" fill="#ff4500"/>
<rect x="869" y="197" width="5" height="25" fill="#ff4500"/>
<rect x="879" y="196" width="1" height="24" fill="#32cd32"/>
<rect x="877" y="197" width="5" height="11" fill="#32cd32"/>
<rect x="887" y="183" width="1" height="30" fill="#ff4500"/>
<rect x="885" y="183" width="5" height="23" fill="#ff4500"/>
<rect x="895" y="162" width="1" height="29" fill="#ff4500"/>
<rect x="893" y="163" width="5" height="21" fill="#ff4500"/>
<rect x="903" y="160" width="1" height="16" fill="#32cd32"/>
<rect x="901" y="163" width="5" height="10" fill="#32cd32"/>
<rect x="911" y="169" width="1" height="13" fill="#32cd32"/>
<rect x="909" y="172" width="5" height="5" fill="#32cd32"/>
<rect x="919" y="165" width="1" height="27" fill="#32cd32"/>
<rect x="917" y="179" width="5" height="12" fill="#32cd32"/>
<rect x="927" y="171" width="1" height="21" fill="#ff4500"/>
<rect x="925" y="175" width="5" height="16" fill="#ff4500"/>
<rect x="935" y="166" width="1" height="15" fill="#ff4500"/>
<rect x="933" y="169" width="5" height="2" fill="#ff4500"/>
<rect x="943" y="163" width="1" height="17" fill="#32cd32"/>
<rect x="941" y="169" width="5" height="10" fill="#32cd32"/>
<rect x="951" y="170" width="1" height="26" fill="#32cd32"/>
<rect x="949" y="175" width="5" height="16" fill="#32cd32"/>
<rect x="959" y="171" width="1" height="21" fill="#ff4500"/>
<rect x="957" y="173" width="5" height="18" fill="#ff4500"/>
<rect x="967" y="187" width="1" height="22" fill="#32cd32"/>
<rect x="965" y="195" width="5" height="13" fill="#32cd32"/>
<rect x="975" y="196" width="1" height="20" fill="#32cd32"/>
<rect x="973" y="207" width="5" height="7" fill="#32cd32"/>
<rect x="983" y="201" width="1" height="20" fill="#32cd32"/>
<rect x="981" y="203" width="5" height="18" fill="#32cd32"/>
<rect x="991" y="217" width="1" height="17" fill="#32cd32"/>
<rect x="989" y="220" width="5" height="6" fill="#32cd32"/>
<rect x="999" y="209" width="1" height="15" fill="#ff4500"/>
<rect x="997" y="215" width="5" height="6" fill="#ff4500"/>
<rect x="1007" y="210" width="1" height="13" fill="#32cd32"/>
<rect x="1005" y="215" width="5" height="2" fill="#32cd32"/>
<rect x="1015" y="210" width="1" height="18" fill="#ff4500"/>
<rect x="1013" y="214" width="5" height="8" fill="#ff4500"/>
<rect x="1023" y="212" width="1" height="10" fill="#32cd32"/>
<rect x="1021" y="214" width="5" height="6" fill="#32cd32"/>
<rect x="1031" y="166" width="1" height="51" fill="#ff4500"/>
<rect x="1029" y="168" width="5" height="49" fill="#ff4500"/>
<rect x="1039" y="153" width="1" height="21" fill="#ff4500"/>
<rect x="1037" y="161" width="5" height="8" fill="#ff4500"/>
<rect x="1047" y="117" width="1" height="29" fill="#ff4500"/>
<rect x="1045" y="125" width="5" height="21" fill="#ff4500"/>
<rect x="1055" y="117" width="1" height="9" fill="#ff4500"/>
<rect x="1053" y="119" width="5" height="7" fill="#ff4500"/>
<rect x="1063" y="113" width="1" height="14" fill="#32cd32"/>
<rect x="1061" y="113" width="5" height="6" fill="#32cd32"/>
<rect x="1071" y="118" width="1" height="11" fill="#32cd32"/>
<rect x="1069" y="118" width="5" height="6" fill="#32cd32"/>
<rect x="1079" y="114" width="1" height="18" fill="#ff4500"/>
<rect x="1077" y="117" width="5" height="15" fill="#ff4500"/>
<rect x="1087" y="94" width="1" height="25" fill="#ff4500"/>
<rect x="1085" y="100" width="5" height="18" fill="#ff4500"/>
<rect x="1095" y="80" width="1" height="24" fill="#ff4500"/>
<rect x="1093" y="90" width="5" height="5" fill="#ff4500"/>
<rect x="1103" y="77" width="1" height="20" fill="#ff4500"/>
<rect x="1101" y="80" width="5" height="11" fill="#ff4500"/>
<rect x="1111" y="61" width="1" height="29" fill="#32cd32"/>
<rect x="1109" y="64" width="5" height="26" fill="#32cd32"/>
<rect x="1119" y="86" width="1" height="20" fill="#32cd32"/>
<rect x="1117" y="89" width="5" height="4" fill="#32cd32"/>
<rect x="1127" y="75" width="1" height="17" fill="#ff4500"/>
<rect x="1125" y="75" width="5" height="16" fill="#ff4500"/>
<rect x="1135" y="75" width="1" height="22" fill="#32cd32"/>
<rect x="1133" y="75" width="5" height="7" fill="#32cd32"/>
<rect x="1143" y="82" width="1" height="17" fill="#ff4500"/>
<rect x="1141" y="86" width="5" height="1" fill="#ff4500"/>
<rect x="1151" y="63" width="1" height="27" fill="#ff4500"/>
<rect x="1149" y="78" width="5" height="9" fill="#ff4500"/>
<rect x="1159" y="72" width="1" height="42" fill="#32cd32"/>
<rect x="1157" y="77" width="5" height="33" fill="#32cd32"/>
<rect x="1167" y="97" width="1" height="21" fill="#ff4500"/>
<rect x="1165" y="107" width="5" height="3" fill="#ff4500"/>
<rect x="1175" y="106" width="1" height="18" fill="#32cd32"/>
<rect x="1173" y="109" width="5" height="13" fill="#32cd32"/>
<rect x="1183" y="109" width="1" height="16" fill="#ff4500"/>
<rect x="1181" y="114" width="5" height="7" fill="#ff4500"/>
<rect x="1191" y="77" width="1" height="23" fill="#32cd32"/>
<rect x="1189" y="90" width="5" height="10" fill="#32cd32"/>
<rect x="1199" y="95" width="1" height="31" fill="#32cd32"/>
<rect x="1197" y="99" width="5" height="27" fill="#32cd32"/>
<rect x="1207" y="95" width="1" height="37" fill="#ff4500"/>
<rect x="1205" y="96" width="5" height="33" fill="#ff4500"/>
<rect x="1215" y="76" width="1" height="24" fill="#ff4500"/>
<rect x="1213" y="77" width="5" height="19" fill="#ff4500"/>
<rect x="1223" y="74" width="1" height="18" fill="#32cd32"/>
<rect x="1221" y="81" width="5" height="4" fill="#32cd32"/>
<rect x="1231" y="69" width="1" height="18" fill="#ff4500"/>
<rect x="1229" y="81" width="5" height="4" fill="#ff4500"/>
<rect x="1239" y="74" width="1" height="15" fill="#ff4500"/>
<rect x="1237" y="82" width="5" height="2" fill="#ff4500"/>
<rect x="1247" y="76" width="1" height="10" fill="#32cd32"/>
<rect x="1245" y="82" width="5" height="3" fill="#32cd32"/>
<rect x="1255" y="60" width="1" height="39" fill="#32cd32"/>
<rect x="1253" y="80" width="5" height="3" fill="#32cd32"/>
<rect x="1263" y="61" width="1" height="24" fill="#ff4500"/>
<rect x="1261" y="62" width="5" height="22" fill="#ff4500"/>
<rect x="1271" y="61" width="1" height="51" fill="#32cd32"/>
<rect x="1269" y="62" width="5" height="47" fill="#32cd32"/>
<rect x="1279" y="98" width="1" height="18" fill="#ff4500"/>
<rect x="1277" y="104" width="5" height="6" fill="#ff4500"/>
<rect x="1287" y="97" width="1" height="14" fill="#ff4500"/>
<rect x="1285" y="102" width="5" height="6" fill="#ff4500"/>
<rect x="1295" y="87" width="1" height="23" fill="#32cd32"/>
<rect x="1293" y="102" width="5" height="4" fill="#32cd32"/>
<rect x="1303" y="96" width="1" height="32" fill="#32cd32"/>
<rect x="1301" y="98" width="5" height="21" fill="#32cd32"/>
<rect x="1311" y="95" width="1" height="25" fill="#ff4500"/>
<rect x="1309" y="103" width="5" height="16" fill="#ff4500"/>
<rect x="1319" y="103" width="1" height="11" fill="#32cd32"/>
<rect x="1317" y="106" width="5" height="6" fill="#32cd32"/>
<rect x="1327" y="108" width="1" height="26" fill="#32cd32"/>
<rect x="1325" y="111" width="5" height="22" fill="#32cd32"/>
<rect x="1335" y="130" width="1" height="16" fill="#32cd32"/>
<rect x="1333" y="135" width="5" height="9" fill="#32cd32"/>
<rect x="1343" y="130" width="1" height="29" fill="#32cd32"/>
<rect x="1341" y="143" width="5" height="12" fill="#32cd32"/>
</g>
<polygon points="1352,36 1363,36 1357.5,42" fill="#c0c0c0"/>
<g clip-path="url(#cd)">
<rect x="7" y="577" width="1" height="11" fill="#c0c0c0"/>
<rect x="15" y="577" width="1" height="13" fill="#c0c0c0"/>
<rect x="23" y="577" width="1" height="14" fill="#c0c0c0"/>
<rect x="31" y="577" width="1" height="14" fill="#c0c0c0"/>
<rect x="39" y="577" width="1" height="16" fill="#c0c0c0"/>
<rect x="47" y="577" width="1" height="17" fill="#c0c0c0"/>
<rect x="55" y="577" width="1" height="17" fill="#c0c0c0"/>
<rect x="63" y="577" width="1" height="17" fill="#c0c0c0"/>
<rect x="71" y="577" width="1" height="16" fill="#c0c0c0"/>
<rect x="79" y="577" width="1" height="16" fill="#c0c0c0"/>
<rect x="87" y="577" width="1" height="15" fill="#c0c0c0"/>
<rect x="95" y="577" width="1" height="15" fill="#c0c0c0"/>
<rect x="103" y="577" width="1" height="15" fill="#c0c0c0"/>
<rect x="111" y="577" width="1" height="14" fill="#c0c0c0"/>
<rect x="119" y="577" width="1" height="14" fill="#c0c0c0"/>
<rect x="127" y="577" width="1" height="15" fill="#c0c0c0"/>
<rect x="135" y="577" width="1" height="15" fill="#c0c0c0"/>
<rect x="143" y="577" width="1" height="14" fill="#c0c0c0"/>
<rect x="151" y="577" width="1" height="13" fill="#c0c0c0"/>
<rect x="159" y="577" width="1" height="11" fill="#c0c0c0"/>
<rect x="167" y="577" width="1" height="9" fill="#c0c0c0"/>
<rect x="175" y="577" width="1" height="7" fill="#c0c0c0"/>
<rect x="183" y="577" width="1" height="6" fill="#c0c0c0"/>
<rect x="191" y="577" width="1" height="5" fill="#c0c0c0"/>
<rect x="199" y="577" width="1" height="1" fill="#c0c0c0"/>
<rect x="207" y="577" width="1" height="1" fill="#c0c0c0"/>
<rect x="215" y="577" width="1" height="1" fill="#c0c0c0"/>
<rect x="223" y="577" width="1" height="1" fill="#c0c0c0"/>
<rect x="231" y="577" width="1" height="1" fill="#c0c0c0"/>
<rect x="239" y="575" width="1" height="3" fill="#c0c0c0"/>
<rect x="247" y="575" width="1" height="3" fill="#c0c0c0"/>
<rect x="255" y="576" width="1" height="2" fill="#c0c0c0"/>
<rect x="263" y="575" width="1" height="3" fill="#c0c0c0"/>
<rect x="271" y="574" width="1" height="4" fill="#c0c0c0"/>
<rect x="279" y="573" width="1" height="5" fill="#c0c0c0"/>
<rect x="287" y="572" width="1" height="6" fill="#c0c0c0"/>
<rect x="295" y="571" width="1" height="7" fill="#c0c0c0"/>
<rect x="303" y="571" width="1" height="7" fill="#c0c0c0"/>
<rect x="311" y="571" width="1" height="7" fill="#c0c0c0"/>
<rect x="319" y="570" width="1" height="8" fill="#c0c0c0"/>
<rect x="327" y="568" width="1" height="10" fill="#c0c0c0"/>
<rect x="335" y="568" width="1" height="10" fill="#c0c0c0"/>
<rect x="343" y="568" width="1" height="10" fill="#c0c0c0"/>
<rect x="351" y="569" width="1" height="9" fill="#c0c0c0"/>
<rect x="359" y="569" width="1" height="9" fill="#c0c0c0"/>
<rect x="367" y="570" width="1" height="8" fill="#c0c0c0"/>
<rect x="375" y="570" width="1" height="8" fill="#c0c0c0"/>
<rect x="383" y="570" width="1" height="8" fill="#c0c0c0"/>
<rect x="391" y="570" width="1" height="8" fill="#c0c0c0"/>
<rect x="399" y="569" width="1" height="9" fill="#c0c0c0"/>
<rect x="407" y="569" width="1" height="9" fill="#c0c0c0"/>
<rect x="415" y="569" width="1" height="9" fill="#c0c0c0"/>
<rect x="423" y="569" width="1" height="9" fill="#c0c0c0"/>
<rect x="431" y="569" width="1" height="9" fill="#c0c0c0"/>
<rect x="439" y="569" width="1" height="9" fill="#c0c0c0"/>
<rect x="447" y="570" width="1" height="8" fill="#c0c0c0"/>
<rect x="455" y="570" width="1" height="8" fill="#c0c0c0"/>
<rect x="463" y="570" width="1" height="8" fill="#c0c0c0"/>
<rect x="471" y="570" width="1" height="8" fill="#c0c0c0"/>
<rect x="479" y="569" width="1" height="9" fill="#c0c0c0"/>
<rect x="487" y="567" width="1" height="11" fill="#c0c0c0"/>
<rect x="495" y="566" width="1" height="12" fill="#c0c0c0"/>
<rect x="503" y="564" width="1" height="14" fill="#c0c0c0"/>
<rect x="511" y="563" width="1" height="15" fill="#c0c0c0"/>
<rect x="519" y="561" width="1" height="17" fill="#c0c0c0"/>
<rect x="527" y="559" width="1" height="19" fill="#c0c0c0"/>
<rect x="535" y="558" width="1" height="20" fill="#c0c0c0"/>
<rect x="543" y="556" width="1" height="22" fill="#c0c0c0"/>
<rect x="551" y="556" width="1" height="22" fill="#c0c0c0"/>
<rect x="559" y="557" width="1" height="21" fill="#c0c0c0"/>
<rect x="567" y="557" width="1" height="21" fill="#c0c0c0"/>
<rect x="575" y="556" width="1" height="22" fill="#c0c0c0"/>
<rect x="583" y="555" width="1" height="23" fill="#c0c0c0"/>
<rect x="591" y="555" width="1" height="23" fill="#c0c0c0"/>
<rect x="599" y="555" width="1" height="23" fill="#c0c0c0"/>
<rect x="607" y="555" width="1" height="23" fill="#c0c0c0"/>
<rect x="615" y="555" width="1" height="23" fill="#c0c0c0"/>
<rect x="623" y="556" width="1" height="22" fill="#c0c0c0"/>
<rect x="631" y="557" width="1" height="21" fill="#c0c0c0"/>
<rect x="639" y="556" width="1" height="22" fill="#c0c0c0"/>
<rect x="647" y="553" width="1" height="25" fill="#c0c0c0"/>
<rect x="655" y="547" width="1" height="31" fill="#c0c0c0"/>
<rect x="663" y="543" width="1" height="35" fill="#c0c0c0"/>
<rect x="671" y="541" width="1" height="37" fill="#c0c0c0"/>
<rect x="679" y="540" width="1" height="38" fill="#c0c0c0"/>
<rect x="687" y="541" width="1" height="37" fill="#c0c0c0"/>
<rect x="695" y="541" width="1" height="37" fill="#c0c0c0"/>
<rect x="703" y="542" width="1" height="36" fill="#c0c0c0"/>
<rect x="711" y="542" width="1" height="36" fill="#c0c0c0"/>
<rect x="719" y="543" width="1" height="35" fill="#c0c0c0"/>
<rect x="727" y="542" width="1" height="36" fill="#c0c0c0"/>
<rect x="735" y="540" width="1" height="38" fill="#c0c0c0"/>
<rect x="743" y="540" width="1" height="38" fill="#c0c0c0"/>
<rect x="751" y="540" width="1" height="38" fill="#c0c0c0"/>
<rect x="759" y="541" width="1" height="37" fill="#c0c0c0"/>
<rect x="767" y="541" width="1" height="37" fill="#c0c0c0"/>
<rect x="775" y="543" width="1" height="35" fill="#c0c0c0"/>
<rect x="783" y="544" width="1" height="34" fill="#c0c0c0"/>
<rect x="791" y="549" width="1" height="29" fill="#c0c0c0"/>
<rect x="799" y="553" width="1" height="25" fill="#c0c0c0"/>
<rect x="807" y="556" width="1" height="22" fill="#c0c0c0"/>
<rect x="815" y="559" width="1" height="19" fill="#c0c0c0"/>
<rect x="823" y="559" width="1" height="19" fill="#c0c0c0"/>
<rect x="831" y="560" width="1" height="18" fill="#c0c0c0"/>
<rect x="839" y="562" width="1" height="16" fill="#c0c0c0"/>
<rect x="847" y="564" width="1" height="14" fill="#c0c0c0"/>
<rect x="855" y="565" width="1" height="13" fill="#c0c0c0"/>
<rect x="863" y="567" width="1" height="11" fill="#c0c0c0"/>
<rect x="871" y="567" width="1" height="11" fill="#c0c0c0"/>
<rect x="879" y="568" width="1" height="10" fill="#c0c0c0"/>
<rect x="887" y="567" width="1" height="11" fill="#c0c0c0"/>
<rect x="895" y="565" width="1" height="13" fill="#c0c0c0"/>
<rect x="903" y="564" width="1" height="14" fill="#c0c0c0"/>
<rect x="911" y="563" width="1" height="15" fill="#c0c0c0"/>
<rect x="919" y="564" width="1" height="14" fill="#c0c0c0"/>
<rect x="927" y="564" width="1" height="14" fill="#c0c0c0"/>
<rect x="935" y="564" width="1" height="14" fill="#c0c0c0"/>
<rect x="943" y="564" width="1" height="14" fill="#c0c0c0"/>
<rect x="951" y="565" width="1" height="13" fill="#c0c0c0"/>
<rect x="959" y="565" width="1" height="13" fill="#c0c0c0"/>
<rect x="967" y="567" width="1" height="11" fill="#c0c0c0"/>
<rect x="975" y="570" width="1" height="8" fill="#c0c0c0"/>
<rect x="983" y="572" width="1" height="6" fill="#c0c0c0"/>
<rect x="991" y="575" width="1" height="3" fill="#c0c0c0"/>
<rect x="999" y="576" width="1" height="2" fill="#c0c0c0"/>
<rect x="1007" y="577" width="1" height="1" fill="#c0c0c0"/>
<rect x="1015" y="577" width="1" height="1" fill="#c0c0c0"/>
<rect x="1023" y="577" width="1" height="1" fill="#c0c0c0"/>
<rect x="1031" y="577" width="1" height="1" fill="#c0c0c0"/>
<rect x="1039" y="575" width="1" height="3" fill="#c0c0c0"/>
<rect x="1047" y="570" width="1" height="8" fill="#c0c0c0"/>
<rect x="1055" y="566" width="1" height="12" fill="#c0c0c0"/>
<rect x="1063" y="563" width="1" height="15" fill="#c0c0c0"/>
<rect x="1071" y="561" width="1" height="17" fill="#c0c0c0"/>
<rect x="1079" y="559" width="1" height="19" fill="#c0c0c0"/>
<rect x="1087" y="557" width="1" height="21" fill="#c0c0c0"/>
<rect x="1095" y="555" width="1" height="23" fill="#c0c0c0"/>
<rect x="1103" y="553" width="1" height="25" fill="#c0c0c0"/>
<rect x="1111" y="552" width="1" height="26" fill="#c0c0c0"/>
<rect x="1119" y="552" width="1" height="26" fill="#c0c0c0"/>
<rect x="1127" y="551" width="1" height="27" fill="#c0c0c0"/>
<rect x="1135" y="551" width="1" height="27" fill="#c0c0c0"/>
<rect x="1143" y="552" width="1" height="26" fill="#c0c0c0"/>
<rect x="1151" y="552" width="1" height="26" fill="#c0c0c0"/>
<rect x="1159" y="554" width="1" height="24" fill="#c0c0c0"/>
<rect x="1167" y="556" width="1" height="22" fill="#c0c0c0"/>
<rect x="1175" y="559" width="1" height="19" fill="#c0c0c0"/>
<rect x="1183" y="561" width="1" height="17" fill="#c0c0c0"/>
<rect x="1191" y="561" width="1" height="17" fill="#c0c0c0"/>
<rect x="1199" y="564" width="1" height="14" fill="#c0c0c0"/>
<rect x="1207" y="565" width="1" height="13" fill="#c0c0c0"/>
<rect x="1215" y="564" width="1" height="14" fill="#c0c0c0"/>
<rect x="1223" y="564" width="1" height="14" fill="#c0c0c0"/>
<rect x="1231" y="563" width="1" height="15" fill="#c0c0c0"/>
<rect x="1239" y="564" width="1" height="14" fill="#c0c0c0"/>
<rect x="1247" y="564" width="1" height="14" fill="#c0c0c0"/>
<rect x="1255" y="564" width="1" height="14" fill="#c0c0c0"/>
<rect x="1263" y="564" width="1" height="14" fill="#c0c0c0"/>
<rect x="1271" y="565" width="1" height="13" fill="#c0c0c0"/>
<rect x="1279" y="568" width="1" height="10" fill="#c0c0c0"/>
<rect x="1287" y="569" width="1" height="9" fill="#c0c0c0"/>
<rect x="1295" y="570" width="1" height="8" fill="#c0c0c0"/>
<rect x="1303" y="572" width="1" height="6" fill="#c0c0c0"/>
<rect x="1311" y="573" width="1" height="5" fill="#c0c0c0"/>
<rect x="1319" y="575" width="1" height="3" fill="#c0c0c0"/>
<rect x="1327" y="577" width="1" height="1" fill="#c0c0c0"/>
<rect x="1335" y="577" width="1" height="1" fill="#c0c0c0"/>
<rect x="1343" y="577" width="1" height="4" fill="#c0c0c0"/>
<path d="M7,583h3v1h-3zM211,583h3v1h-3zM13,584h3v1h-3zM19,584h1v1h-1zM206,584h2v1h-2zM20,585h2v1h-2zM25,585h1v1h-1zM205,585h1v1h-1zM26,586h2v1h-2zM199,586h3v1h-3zM31,587h3v1h-3zM188,587h2v1h-2zM193,587h3v1h-3zM37,588h3v1h-3zM43,588h1v1h-1zM181,588h3v1h-3zM187,588h1v1h-1zM44,589h2v1h-2zM49,589h3v1h-3zM175,589h3v1h-3zM55,590h3v1h-3zM164,590h2v1h-2zM169,590h3v1h-3zM61,591h3v1h-3zM67,591h1v1h-1zM151,591h3v1h-3zM157,591h3v1h-3zM163,591h1v1h-1zM68,592h2v1h-2zM73,592h3v1h-3zM116,592h2v1h-2zM121,592h3v1h-3zM127,592h3v1h-3zM133,592h3v1h-3zM139,592h3v1h-3zM145,592h3v1h-3zM79,593h3v1h-3zM85,593h3v1h-3zM91,593h3v1h-3zM97,593h3v1h-3zM103,593h3v1h-3zM109,593h3v1h-3zM115,593h1v1h-1zM217,582h3v1h-3zM223,581h3v1h-3zM229,580h3v1h-3zM235,580h1v1h-1zM236,579h2v1h-2zM241,579h3v1h-3zM247,578h3v1h-3zM253,577h3v1h-3zM259,577h1v1h-1zM260,576h2v1h-2zM265,576h3v1h-3zM271,575h3v1h-3zM277,574h3v1h-3zM283,574h3v1h-3zM289,574h3v1h-3zM1028,574h2v1h-2zM1033,574h3v1h-3zM1039,574h3v1h-3zM1045,574h3v1h-3zM1051,574h3v1h-3zM1057,574h3v1h-3zM295,573h3v1h-3zM301,573h3v1h-3zM307,573h1v1h-1zM1022,573h2v1h-2zM1027,573h1v1h-1zM1063,573h3v1h-3zM308,572h2v1h-2zM313,572h3v1h-3zM1021,572h1v1h-1zM1069,572h1v1h-1zM1339,572h3v1h-3zM319,571h3v1h-3zM325,571h3v1h-3zM331,571h1v1h-1zM1015,571h3v1h-3zM1070,571h2v1h-2zM1334,571h2v1h-2zM332,570h2v1h-2zM337,570h3v1h-3zM343,570h3v1h-3zM1009,570h3v1h-3zM1075,570h3v1h-3zM1333,570h1v1h-1zM349,569h3v1h-3zM355,569h1v1h-1zM1003,569h3v1h-3zM1327,569h3v1h-3zM356,568h2v1h-2zM361,568h3v1h-3zM367,568h3v1h-3zM373,568h3v1h-3zM379,568h3v1h-3zM385,568h3v1h-3zM391,568h3v1h-3zM397,568h3v1h-3zM403,568h3v1h-3zM409,568h3v1h-3zM415,568h3v1h-3zM421,568h3v1h-3zM427,568h3v1h-3zM433,568h3v1h-3zM439,568h3v1h-3zM445,568h3v1h-3zM451,568h3v1h-3zM457,568h3v1h-3zM463,568h3v1h-3zM469,568h3v1h-3zM475,568h3v1h-3zM481,568h3v1h-3zM487,568h3v1h-3zM493,568h3v1h-3zM499,568h3v1h-3zM505,568h3v1h-3zM998,568h2v1h-2zM1081,568h3v1h-3zM1310,568h2v1h-2zM1315,568h3v1h-3zM1321,568h3v1h-3zM511,567h3v1h-3zM997,567h1v1h-1zM1309,567h1v1h-1zM517,566h3v1h-3zM523,566h1v1h-1zM991,566h3v1h-3zM1087,566h3v1h-3zM1303,566h3v1h-3zM524,565h2v1h-2zM529,565h3v1h-3zM901,565h3v1h-3zM907,565h3v1h-3zM913,565h3v1h-3zM919,565h3v1h-3zM925,565h3v1h-3zM931,565h3v1h-3zM937,565h3v1h-3zM943,565h3v1h-3zM973,565h3v1h-3zM979,565h3v1h-3zM985,565h3v1h-3zM1093,565h1v1h-1zM1285,565h3v1h-3zM1291,565h3v1h-3zM1297,565h3v1h-3zM535,564h3v1h-3zM878,564h2v1h-2zM883,564h3v1h-3zM889,564h3v1h-3zM895,564h3v1h-3zM949,564h3v1h-3zM955,564h3v1h-3zM961,564h3v1h-3zM967,564h3v1h-3zM1094,564h2v1h-2zM1261,564h3v1h-3zM1267,564h3v1h-3zM1273,564h3v1h-3zM1279,564h3v1h-3zM541,563h1v1h-1zM877,563h1v1h-1zM1099,563h3v1h-3zM1255,563h3v1h-3zM542,562h2v1h-2zM873,562h1v1h-1zM1237,562h3v1h-3zM1243,562h3v1h-3zM1249,562h3v1h-3zM547,561h3v1h-3zM871,561h2v1h-2zM1105,561h3v1h-3zM1231,561h3v1h-3zM553,560h3v1h-3zM865,560h3v1h-3zM1220,560h2v1h-2zM1225,560h3v1h-3zM559,559h3v1h-3zM859,559h3v1h-3zM1111,559h3v1h-3zM1214,559h2v1h-2zM1219,559h1v1h-1zM565,558h3v1h-3zM571,558h1v1h-1zM854,558h2v1h-2zM1117,558h1v1h-1zM1213,558h1v1h-1zM572,557h2v1h-2zM577,557h3v1h-3zM853,557h1v1h-1zM1118,557h2v1h-2zM1123,557h1v1h-1zM1207,557h3v1h-3zM583,556h3v1h-3zM589,556h3v1h-3zM595,556h3v1h-3zM601,556h3v1h-3zM849,556h1v1h-1zM1124,556h2v1h-2zM1129,556h1v1h-1zM1196,556h2v1h-2zM1201,556h3v1h-3zM607,555h3v1h-3zM613,555h3v1h-3zM619,555h3v1h-3zM625,555h3v1h-3zM631,555h3v1h-3zM637,555h3v1h-3zM643,555h3v1h-3zM649,555h3v1h-3zM847,555h2v1h-2zM1130,555h2v1h-2zM1190,555h2v1h-2zM1195,555h1v1h-1zM655,554h3v1h-3zM842,554h2v1h-2zM1135,554h3v1h-3zM1189,554h1v1h-1zM661,553h1v1h-1zM836,553h2v1h-2zM841,553h1v1h-1zM1141,553h1v1h-1zM1183,553h3v1h-3zM662,552h2v1h-2zM667,552h1v1h-1zM830,552h2v1h-2zM835,552h1v1h-1zM1142,552h2v1h-2zM1147,552h3v1h-3zM1153,552h3v1h-3zM1159,552h3v1h-3zM1165,552h3v1h-3zM1171,552h3v1h-3zM1177,552h3v1h-3zM668,551h2v1h-2zM673,551h1v1h-1zM829,551h1v1h-1zM674,550h2v1h-2zM825,550h1v1h-1zM679,549h3v1h-3zM823,549h2v1h-2zM685,548h1v1h-1zM818,548h2v1h-2zM686,547h2v1h-2zM691,547h1v1h-1zM817,547h1v1h-1zM692,546h2v1h-2zM697,546h1v1h-1zM811,546h3v1h-3zM698,545h2v1h-2zM806,545h2v1h-2zM703,544h3v1h-3zM805,544h1v1h-1zM709,543h1v1h-1zM799,543h3v1h-3zM710,542h2v1h-2zM715,542h3v1h-3zM721,542h3v1h-3zM727,542h3v1h-3zM758,542h2v1h-2zM763,542h3v1h-3zM769,542h3v1h-3zM775,542h3v1h-3zM781,542h3v1h-3zM787,542h3v1h-3zM793,542h3v1h-3zM733,541h3v1h-3zM739,541h1v1h-1zM757,541h1v1h-1zM740,540h2v1h-2zM745,540h3v1h-3zM751,540h3v1h-3z" fill="#ff0000" />
</g>
<line x1="8" y1="639.5" x2="1676" y2="639.5" stroke="#c0c0c0" stroke-dasharray="3,3"/>
<line x1="8" y1="689.5" x2="1676" y2="689.5" stroke="#c0c0c0" stroke-dasharray="3,3"/>
<g clip-path="url(#cr)">
<path d="M7,692h3v1h-3zM34,692h1v1h-1zM42,692h1v1h-1zM10,691h4v1h-4zM33,691h1v1h-1zM42,691h1v1h-1zM14,690h6v1h-6zM33,690h1v1h-1zM43,690h1v1h-1zM20,689h8v1h-8zM32,689h1v1h-1zM43,689h1v1h-1zM28,688h4v1h-4zM44,688h1v1h-1zM35,693h1v1h-1zM41,693h1v1h-1zM36,694h1v1h-1zM41,694h1v1h-1zM37,695h1v1h-1zM40,695h1v1h-1zM37,696h1v1h-1zM40,696h1v1h-1zM38,697h2v1h-2zM39,698h1v1h-1zM44,687h1v1h-1zM124,687h8v1h-8zM140,687h4v1h-4zM45,686h1v1h-1zM119,686h5v1h-5zM132,686h8v1h-8zM143,686h1v1h-1zM45,685h1v1h-1zM117,685h2v1h-2zM144,685h1v1h-1zM46,684h1v1h-1zM116,684h1v1h-1zM144,684h1v1h-1zM46,683h1v1h-1zM54,683h11v1h-11zM114,683h2v1h-2zM144,683h1v1h-1zM47,682h1v1h-1zM50,682h4v1h-4zM65,682h2v1h-2zM78,682h4v1h-4zM112,682h2v1h-2zM145,682h1v1h-1zM47,681h3v1h-3zM67,681h2v1h-2zM76,681h2v1h-2zM82,681h4v1h-4zM100,681h12v1h-12zM145,681h1v1h-1zM69,680h2v1h-2zM73,680h3v1h-3zM86,680h14v1h-14zM146,680h1v1h-1zM1342,680h2v1h-2zM71,679h2v1h-2zM146,679h1v1h-1zM1340,679h2v1h-2zM146,678h1v1h-1zM1337,678h3v1h-3zM147,677h1v1h-1zM1334,677h3v1h-3zM147,676h1v1h-1zM1332,676h2v1h-2zM147,675h1v1h-1zM1329,675h3v1h-3zM148,674h1v1h-1zM1327,674h2v1h-2zM148,673h1v1h-1zM1326,673h1v1h-1zM148,672h1v1h-1zM990,672h3v1h-3zM1325,672h1v1h-1zM149,671h1v1h-1zM986,671h4v1h-4zM993,671h2v1h-2zM1324,671h1v1h-1zM149,670h1v1h-1zM982,670h4v1h-4zM995,670h2v1h-2zM1323,670h1v1h-1zM150,669h1v1h-1zM978,669h4v1h-4zM997,669h2v1h-2zM1022,669h2v1h-2zM1303,669h1v1h-1zM1322,669h1v1h-1zM150,668h1v1h-1zM974,668h4v1h-4zM999,668h13v1h-13zM1018,668h4v1h-4zM1023,668h1v1h-1zM1301,668h2v1h-2zM1304,668h2v1h-2zM1321,668h1v1h-1zM150,667h1v1h-1zM970,667h4v1h-4zM1012,667h6v1h-6zM1024,667h1v1h-1zM1300,667h1v1h-1zM1306,667h1v1h-1zM1320,667h1v1h-1zM151,666h1v1h-1zM967,666h3v1h-3zM1024,666h1v1h-1zM1298,666h2v1h-2zM1307,666h1v1h-1zM1318,666h2v1h-2zM151,665h5v1h-5zM966,665h1v1h-1zM1025,665h1v1h-1zM1271,665h5v1h-5zM1296,665h2v1h-2zM1308,665h2v1h-2zM1316,665h2v1h-2zM156,664h6v1h-6zM798,664h2v1h-2zM966,664h1v1h-1zM1025,664h1v1h-1zM1199,664h1v1h-1zM1271,664h1v1h-1zM1276,664h8v1h-8zM1292,664h4v1h-4zM1310,664h1v1h-1zM1313,664h3v1h-3zM162,663h4v1h-4zM794,663h4v1h-4zM800,663h2v1h-2zM862,663h2v1h-2zM965,663h1v1h-1zM1026,663h1v1h-1zM1198,663h1v1h-1zM1200,663h1v1h-1zM1270,663h1v1h-1zM1284,663h8v1h-8zM1311,663h2v1h-2zM166,662h14v1h-14zM791,662h3v1h-3zM802,662h2v1h-2zM858,662h4v1h-4zM864,662h1v1h-1zM964,662h1v1h-1zM1026,662h1v1h-1zM1198,662h1v1h-1zM1201,662h1v1h-1zM1270,662h1v1h-1zM180,661h8v1h-8zM247,661h9v1h-9zM791,661h1v1h-1zM804,661h1v1h-1zM844,661h14v1h-14zM865,661h1v1h-1zM964,661h1v1h-1zM1027,661h1v1h-1zM1175,661h2v1h-2zM1197,661h1v1h-1zM1201,661h1v1h-1zM1269,661h1v1h-1zM188,660h4v1h-4zM246,660h1v1h-1zM256,660h1v1h-1zM790,660h1v1h-1zM805,660h2v1h-2zM838,660h6v1h-6zM865,660h1v1h-1zM963,660h1v1h-1zM1027,660h1v1h-1zM1174,660h1v1h-1zM1177,660h3v1h-3zM1196,660h1v1h-1zM1202,660h1v1h-1zM1269,660h1v1h-1zM192,659h1v1h-1zM207,659h1v1h-1zM223,659h5v1h-5zM245,659h1v1h-1zM257,659h1v1h-1zM366,659h2v1h-2zM790,659h1v1h-1zM807,659h5v1h-5zM836,659h2v1h-2zM866,659h1v1h-1zM951,659h1v1h-1zM962,659h1v1h-1zM1027,659h1v1h-1zM1172,659h2v1h-2zM1180,659h2v1h-2zM1195,659h1v1h-1zM1203,659h1v1h-1zM1268,659h1v1h-1zM192,658h1v1h-1zM206,658h1v1h-1zM208,658h2v1h-2zM221,658h2v1h-2zM228,658h5v1h-5zM244,658h1v1h-1zM257,658h1v1h-1zM364,658h2v1h-2zM368,658h2v1h-2zM447,658h1v1h-1zM789,658h1v1h-1zM812,658h4v1h-4zM833,658h3v1h-3zM867,658h1v1h-1zM949,658h2v1h-2zM952,658h2v1h-2zM962,658h1v1h-1zM1028,658h1v1h-1zM1171,658h1v1h-1zM1182,658h2v1h-2zM1195,658h1v1h-1zM1204,658h1v1h-1zM1268,658h1v1h-1zM193,657h1v1h-1zM206,657h1v1h-1zM210,657h2v1h-2zM220,657h1v1h-1zM233,657h2v1h-2zM242,657h2v1h-2zM258,657h1v1h-1zM303,657h1v1h-1zM361,657h3v1h-3zM370,657h1v1h-1zM446,657h1v1h-1zM448,657h1v1h-1zM789,657h1v1h-1zM816,657h1v1h-1zM831,657h2v1h-2zM868,657h1v1h-1zM879,657h1v1h-1zM919,657h1v1h-1zM948,657h1v1h-1zM954,657h2v1h-2zM961,657h1v1h-1zM1028,657h1v1h-1zM1170,657h1v1h-1zM1184,657h2v1h-2zM1194,657h1v1h-1zM1205,657h1v1h-1zM1268,657h1v1h-1zM194,656h1v1h-1zM205,656h1v1h-1zM212,656h1v1h-1zM218,656h2v1h-2zM235,656h2v1h-2zM241,656h1v1h-1zM259,656h1v1h-1zM302,656h1v1h-1zM304,656h1v1h-1zM351,656h10v1h-10zM371,656h1v1h-1zM445,656h1v1h-1zM449,656h1v1h-1zM788,656h1v1h-1zM817,656h1v1h-1zM830,656h1v1h-1zM869,656h1v1h-1zM877,656h2v1h-2zM880,656h1v1h-1zM918,656h1v1h-1zM920,656h2v1h-2zM946,656h2v1h-2zM956,656h1v1h-1zM960,656h1v1h-1zM1029,656h1v1h-1zM1159,656h5v1h-5zM1168,656h2v1h-2zM1186,656h2v1h-2zM1193,656h1v1h-1zM1205,656h1v1h-1zM1267,656h1v1h-1zM194,655h1v1h-1zM204,655h1v1h-1zM213,655h2v1h-2zM216,655h2v1h-2zM237,655h2v1h-2zM240,655h1v1h-1zM260,655h1v1h-1zM302,655h1v1h-1zM305,655h1v1h-1zM349,655h2v1h-2zM372,655h2v1h-2zM444,655h1v1h-1zM450,655h2v1h-2zM788,655h1v1h-1zM818,655h2v1h-2zM828,655h2v1h-2zM869,655h1v1h-1zM875,655h2v1h-2zM881,655h1v1h-1zM916,655h2v1h-2zM922,655h2v1h-2zM944,655h2v1h-2zM957,655h2v1h-2zM960,655h1v1h-1zM1029,655h1v1h-1zM1159,655h1v1h-1zM1164,655h4v1h-4zM1188,655h1v1h-1zM1192,655h1v1h-1zM1206,655h1v1h-1zM1267,655h1v1h-1zM195,654h1v1h-1zM203,654h1v1h-1zM215,654h1v1h-1zM239,654h1v1h-1zM261,654h1v1h-1zM301,654h1v1h-1zM306,654h2v1h-2zM347,654h2v1h-2zM374,654h1v1h-1zM443,654h1v1h-1zM452,654h1v1h-1zM787,654h1v1h-1zM820,654h1v1h-1zM827,654h1v1h-1zM870,654h1v1h-1zM873,654h2v1h-2zM882,654h2v1h-2zM915,654h1v1h-1zM924,654h1v1h-1zM943,654h1v1h-1zM959,654h1v1h-1zM1030,654h1v1h-1zM1158,654h1v1h-1zM1189,654h2v1h-2zM1192,654h1v1h-1zM1207,654h1v1h-1zM1266,654h1v1h-1zM196,653h1v1h-1zM203,653h1v1h-1zM261,653h1v1h-1zM300,653h1v1h-1zM308,653h1v1h-1zM345,653h2v1h-2zM375,653h9v1h-9zM415,653h10v1h-10zM443,653h1v1h-1zM453,653h1v1h-1zM787,653h1v1h-1zM821,653h1v1h-1zM826,653h1v1h-1zM871,653h2v1h-2zM884,653h1v1h-1zM914,653h1v1h-1zM925,653h2v1h-2zM941,653h2v1h-2zM1030,653h1v1h-1zM1158,653h1v1h-1zM1191,653h1v1h-1zM1208,653h2v1h-2zM1244,653h8v1h-8zM1266,653h1v1h-1zM196,652h1v1h-1zM202,652h1v1h-1zM262,652h1v1h-1zM278,652h4v1h-4zM299,652h1v1h-1zM309,652h1v1h-1zM343,652h2v1h-2zM384,652h2v1h-2zM414,652h1v1h-1zM425,652h2v1h-2zM442,652h1v1h-1zM454,652h1v1h-1zM787,652h1v1h-1zM822,652h1v1h-1zM824,652h2v1h-2zM885,652h1v1h-1zM912,652h2v1h-2zM927,652h3v1h-3zM939,652h2v1h-2zM1031,652h1v1h-1zM1157,652h1v1h-1zM1210,652h2v1h-2zM1222,652h6v1h-6zM1236,652h8v1h-8zM1252,652h4v1h-4zM1266,652h1v1h-1zM197,651h1v1h-1zM201,651h1v1h-1zM263,651h5v1h-5zM274,651h4v1h-4zM282,651h4v1h-4zM299,651h1v1h-1zM310,651h1v1h-1zM342,651h1v1h-1zM386,651h1v1h-1zM413,651h1v1h-1zM427,651h2v1h-2zM441,651h1v1h-1zM455,651h5v1h-5zM786,651h1v1h-1zM823,651h1v1h-1zM886,651h1v1h-1zM910,651h2v1h-2zM930,651h4v1h-4zM937,651h2v1h-2zM1031,651h3v1h-3zM1157,651h1v1h-1zM1212,651h1v1h-1zM1220,651h2v1h-2zM1228,651h8v1h-8zM1256,651h2v1h-2zM1265,651h1v1h-1zM198,650h1v1h-1zM200,650h1v1h-1zM268,650h6v1h-6zM286,650h3v1h-3zM298,650h1v1h-1zM311,650h2v1h-2zM341,650h1v1h-1zM387,650h1v1h-1zM398,650h2v1h-2zM412,650h1v1h-1zM429,650h2v1h-2zM440,650h1v1h-1zM460,650h4v1h-4zM786,650h1v1h-1zM887,650h1v1h-1zM906,650h4v1h-4zM934,650h3v1h-3zM1034,650h4v1h-4zM1156,650h1v1h-1zM1213,650h2v1h-2zM1217,650h3v1h-3zM1258,650h1v1h-1zM1265,650h1v1h-1zM198,649h1v1h-1zM200,649h1v1h-1zM289,649h2v1h-2zM297,649h1v1h-1zM313,649h2v1h-2zM340,649h1v1h-1zM388,649h2v1h-2zM396,649h2v1h-2zM400,649h2v1h-2zM411,649h1v1h-1zM431,649h9v1h-9zM464,649h2v1h-2zM785,649h1v1h-1zM888,649h2v1h-2zM903,649h3v1h-3zM1038,649h2v1h-2zM1156,649h1v1h-1zM1215,649h2v1h-2zM1259,649h1v1h-1zM1264,649h1v1h-1zM199,648h1v1h-1zM291,648h2v1h-2zM296,648h1v1h-1zM315,648h2v1h-2zM338,648h2v1h-2zM390,648h1v1h-1zM393,648h3v1h-3zM402,648h2v1h-2zM410,648h1v1h-1zM466,648h2v1h-2zM785,648h1v1h-1zM890,648h2v1h-2zM901,648h2v1h-2zM1040,648h1v1h-1zM1155,648h1v1h-1zM1260,648h2v1h-2zM1264,648h1v1h-1zM293,647h2v1h-2zM296,647h1v1h-1zM317,647h2v1h-2zM337,647h1v1h-1zM391,647h2v1h-2zM404,647h1v1h-1zM409,647h1v1h-1zM468,647h1v1h-1zM784,647h1v1h-1zM892,647h1v1h-1zM899,647h2v1h-2zM1041,647h1v1h-1zM1155,647h1v1h-1zM1262,647h2v1h-2zM295,646h1v1h-1zM319,646h2v1h-2zM336,646h1v1h-1zM405,646h2v1h-2zM408,646h1v1h-1zM469,646h2v1h-2zM784,646h1v1h-1zM893,646h2v1h-2zM897,646h2v1h-2zM1042,646h1v1h-1zM1154,646h1v1h-1zM1263,646h1v1h-1zM321,645h2v1h-2zM334,645h2v1h-2zM407,645h1v1h-1zM471,645h1v1h-1zM783,645h1v1h-1zM895,645h2v1h-2zM1043,645h1v1h-1zM1154,645h1v1h-1zM323,644h2v1h-2zM332,644h2v1h-2zM472,644h2v1h-2zM559,644h1v1h-1zM782,644h2v1h-2zM1044,644h1v1h-1zM1153,644h1v1h-1zM325,643h2v1h-2zM329,643h3v1h-3zM474,643h1v1h-1zM558,643h1v1h-1zM560,643h1v1h-1zM778,643h4v1h-4zM1045,643h1v1h-1zM1153,643h1v1h-1zM327,642h2v1h-2zM475,642h1v1h-1zM557,642h1v1h-1zM561,642h1v1h-1zM775,642h3v1h-3zM1046,642h1v1h-1zM1070,642h4v1h-4zM1152,642h1v1h-1zM476,641h2v1h-2zM556,641h1v1h-1zM562,641h1v1h-1zM735,641h5v1h-5zM773,641h2v1h-2zM1047,641h3v1h-3zM1068,641h2v1h-2zM1074,641h4v1h-4zM1142,641h4v1h-4zM1152,641h1v1h-1zM478,640h1v1h-1zM554,640h2v1h-2zM563,640h1v1h-1zM623,640h9v1h-9zM734,640h1v1h-1zM740,640h6v1h-6zM772,640h1v1h-1zM1050,640h4v1h-4zM1065,640h3v1h-3zM1078,640h3v1h-3zM1138,640h4v1h-4zM1146,640h4v1h-4zM1151,640h1v1h-1zM479,639h2v1h-2zM553,639h1v1h-1zM564,639h1v1h-1zM622,639h1v1h-1zM632,639h1v1h-1zM700,639h12v1h-12zM734,639h1v1h-1zM746,639h4v1h-4zM770,639h2v1h-2zM1054,639h11v1h-11zM1081,639h2v1h-2zM1116,639h5v1h-5zM1135,639h3v1h-3zM1150,639h2v1h-2zM481,638h3v1h-3zM552,638h1v1h-1zM565,638h1v1h-1zM621,638h1v1h-1zM633,638h1v1h-1zM687,638h13v1h-13zM712,638h2v1h-2zM733,638h1v1h-1zM750,638h14v1h-14zM768,638h2v1h-2zM1083,638h2v1h-2zM1111,638h5v1h-5zM1121,638h2v1h-2zM1133,638h2v1h-2zM484,637h2v1h-2zM551,637h1v1h-1zM566,637h1v1h-1zM591,637h5v1h-5zM620,637h1v1h-1zM633,637h1v1h-1zM685,637h2v1h-2zM714,637h2v1h-2zM733,637h1v1h-1zM764,637h4v1h-4zM1085,637h2v1h-2zM1110,637h1v1h-1zM1123,637h2v1h-2zM1131,637h2v1h-2zM486,636h3v1h-3zM550,636h1v1h-1zM567,636h2v1h-2zM589,636h2v1h-2zM596,636h8v1h-8zM618,636h2v1h-2zM634,636h1v1h-1zM683,636h2v1h-2zM716,636h1v1h-1zM732,636h1v1h-1zM1087,636h3v1h-3zM1108,636h2v1h-2zM1125,636h2v1h-2zM1129,636h2v1h-2zM489,635h3v1h-3zM549,635h1v1h-1zM569,635h3v1h-3zM588,635h1v1h-1zM604,635h6v1h-6zM617,635h1v1h-1zM635,635h1v1h-1zM681,635h2v1h-2zM717,635h2v1h-2zM732,635h1v1h-1zM1090,635h4v1h-4zM1107,635h1v1h-1zM1127,635h2v1h-2zM492,634h2v1h-2zM549,634h1v1h-1zM572,634h2v1h-2zM586,634h2v1h-2zM610,634h4v1h-4zM616,634h1v1h-1zM636,634h1v1h-1zM671,634h10v1h-10zM719,634h1v1h-1zM731,634h1v1h-1zM1094,634h4v1h-4zM1106,634h1v1h-1zM494,633h3v1h-3zM510,633h2v1h-2zM548,633h1v1h-1zM574,633h6v1h-6zM584,633h2v1h-2zM614,633h2v1h-2zM637,633h1v1h-1zM670,633h1v1h-1zM720,633h1v1h-1zM731,633h1v1h-1zM1098,633h4v1h-4zM1104,633h2v1h-2zM497,632h3v1h-3zM508,632h2v1h-2zM512,632h2v1h-2zM547,632h1v1h-1zM580,632h4v1h-4zM637,632h1v1h-1zM668,632h2v1h-2zM721,632h1v1h-1zM730,632h1v1h-1zM1102,632h2v1h-2zM500,631h2v1h-2zM505,631h3v1h-3zM514,631h2v1h-2zM546,631h1v1h-1zM638,631h1v1h-1zM667,631h1v1h-1zM722,631h1v1h-1zM730,631h1v1h-1zM502,630h3v1h-3zM516,630h1v1h-1zM545,630h1v1h-1zM639,630h1v1h-1zM666,630h1v1h-1zM723,630h1v1h-1zM729,630h1v1h-1zM517,629h2v1h-2zM545,629h1v1h-1zM640,629h1v1h-1zM664,629h2v1h-2zM724,629h1v1h-1zM729,629h1v1h-1zM519,628h2v1h-2zM534,628h6v1h-6zM544,628h1v1h-1zM641,628h1v1h-1zM663,628h1v1h-1zM725,628h1v1h-1zM728,628h1v1h-1zM521,627h3v1h-3zM532,627h2v1h-2zM540,627h4v1h-4zM642,627h1v1h-1zM662,627h1v1h-1zM726,627h1v1h-1zM728,627h1v1h-1zM524,626h2v1h-2zM529,626h3v1h-3zM643,626h1v1h-1zM662,626h1v1h-1zM727,626h1v1h-1zM526,625h3v1h-3zM643,625h1v1h-1zM661,625h1v1h-1zM644,624h1v1h-1zM660,624h1v1h-1zM645,623h1v1h-1zM659,623h1v1h-1zM646,622h1v1h-1zM659,622h1v1h-1zM647,621h2v1h-2zM658,621h1v1h-1zM649,620h2v1h-2zM657,620h1v1h-1zM651,619h2v1h-2zM656,619h1v1h-1zM653,618h2v1h-2zM656,618h1v1h-1zM655,617h1v1h-1z" fill="#1e90ff" />
</g>
<rect x="6.5" y="35.5" width="1670" height="498" fill="none" stroke="#000" stroke-width="1"/>
<rect x="6.5" y="535.5" width="1670" height="62" fill="none" stroke="#000" stroke-width="1"/>
<rect x="6.5" y="599.5" width="1670" height="129" fill="none" stroke="#000" stroke-width="1"/>
<rect x="1676" y="62" width="1" height="2" fill="#ff0000" />
<rect x="1676" y="139" width="1" height="2" fill="#00ff7f" />
<rect x="1676" y="187" width="1" height="2" fill="#0000ff" />
<rect x="1676" y="236" width="1" height="2" fill="#0000ff" />
<rect x="1677" y="73" width="2" height="1" fill="#000"/>
<text x="1682.5" y="77.6" font-size="12.8" fill="#000" >4101.0</text>
<rect x="1677" y="122" width="2" height="1" fill="#000"/>
<text x="1682.5" y="126.6" font-size="12.8" fill="#000" >3973.5</text>
<rect x="1677" y="171" width="2" height="1" fill="#000"/>
<text x="1682.5" y="175.6" font-size="12.8" fill="#000" >3846.0</text>
<rect x="1677" y="220" width="2" height="1" fill="#000"/>
<text x="1682.5" y="224.6" font-size="12.8" fill="#000" >3721.0</text>
<rect x="1677" y="269" width="2" height="1" fill="#000"/>
<text x="1682.5" y="273.6" font-size="12.8" fill="#000" >3593.5</text>
<rect x="1677" y="318" width="2" height="1" fill="#000"/>
<text x="1682.5" y="322.6" font-size="12.8" fill="#000" >3466.0</text>
<rect x="1677" y="368" width="2" height="1" fill="#000"/>
<text x="1682.5" y="372.6" font-size="12.8" fill="#000" >3338.5</text>
<rect x="1677" y="416" width="2" height="1" fill="#000"/>
<text x="1682.5" y="420.6" font-size="12.8" fill="#000" >3213.5</text>
<rect x="1677" y="465" width="2" height="1" fill="#000"/>
<text x="1682.5" y="469.6" font-size="12.8" fill="#000" >3086.0</text>
<rect x="1677" y="514" width="2" height="1" fill="#000"/>
<text x="1682.5" y="518.6" font-size="12.8" fill="#000" >2958.5</text>
<rect x="1678" y="57" width="49" height="14" fill="#ff0000" />
<text x="1682.5" y="68.8" font-size="12.8" fill="#fff" >4127.6</text>
<rect x="1678" y="147" width="49" height="14" fill="#000000" />
<text x="1682.5" y="158.8" font-size="12.8" fill="#fff" >3889.9</text>
<rect x="1678" y="134" width="49" height="14" fill="#00ff7f" />
<text x="1682.5" y="145.8" font-size="12.8" fill="#fff" >3926.0</text>
<rect x="1678" y="182" width="49" height="14" fill="#0000ff" />
<text x="1682.5" y="193.8" font-size="12.8" fill="#fff" >3803.8</text>
<rect x="1678" y="231" width="49" height="14" fill="#0000ff" />
<text x="1682.5" y="242.8" font-size="12.8" fill="#fff" >3676.5</text>
<rect x="1678" y="524" width="49" height="14" fill="#ff0000" />
<text x="1682.5" y="535.8" font-size="12.8" fill="#fff" >2917.0</text>
<rect x="1678" y="518" width="49" height="14" fill="#008000" />
<text x="1682.5" y="529.8" font-size="12.8" fill="#fff" >2933.8</text>
<polygon points="10,48 19,48 14.5,43" fill="#000"/>
<text x="25" y="50" font-size="12.8" fill="#000" textLength="78" lengthAdjust="spacingAndGlyphs" >CHINA300-,H4</text>
<text x="112" y="50" font-size="12.8" fill="#000" textLength="167.5" lengthAdjust="spacingAndGlyphs" >3919.4 3954.1 3881.0 3889.9</text>
<text x="11.5" y="551" font-size="12.8" fill="#000" textLength="159.5" lengthAdjust="spacingAndGlyphs" >MACD(12,26,9) -10.71 13.10</text>
<text x="1679.3" y="549" font-size="12.8" fill="#000" >121.84</text>
<rect x="1677" y="577" width="2" height="1" fill="#000"/>
<text x="1680.2" y="582" font-size="12.8" fill="#000" >0.00</text>
<text x="1680.2" y="594.2" font-size="12.8" fill="#000" >-57.26</text>
<rect x="1677" y="537" width="2" height="1" fill="#000"/>
<rect x="1677" y="596" width="2" height="1" fill="#000"/>
<rect x="1677" y="601" width="2" height="1" fill="#000"/>
<rect x="1677" y="727" width="2" height="1" fill="#000"/>
<rect x="1676" y="639" width="1" height="1" fill="#fff" />
<rect x="1676" y="689" width="1" height="1" fill="#fff" />
<text x="11.5" y="614.5" font-size="12.8" fill="#000" textLength="91" lengthAdjust="spacingAndGlyphs" >RSI(14) 37.1304</text>
<text x="1679.3" y="612.6" font-size="12.8" fill="#000" >100</text>
<text x="1680.2" y="643.6" font-size="12.8" fill="#000" >70</text>
<text x="1680.2" y="693.6" font-size="12.8" fill="#000" >30</text>
<text x="1680.2" y="724.6" font-size="12.8" fill="#000" >0</text>
<rect x="7" y="729" width="1" height="3" fill="#000"/>
<text x="6" y="744" font-size="12.8" fill="#000" >21 Dec 2018</text>
<rect x="103" y="729" width="1" height="3" fill="#000"/>
<text x="102" y="744" font-size="12.8" fill="#000" >31 Dec 01:30</text>
<rect x="199" y="729" width="1" height="3" fill="#000"/>
<text x="198" y="744" font-size="12.8" fill="#000" >9 Jan 01:30</text>
<rect x="295" y="729" width="1" height="3" fill="#000"/>
<text x="294" y="744" font-size="12.8" fill="#000" >17 Jan 01:30</text>
<rect x="391" y="729" width="1" height="3" fill="#000"/>
<text x="390" y="744" font-size="12.8" fill="#000" >25 Jan 01:30</text>
<rect x="487" y="729" width="1" height="3" fill="#000"/>
<text x="486" y="744" font-size="12.8" fill="#000" >11 Feb 01:30</text>
<rect x="583" y="729" width="1" height="3" fill="#000"/>
<text x="582" y="744" font-size="12.8" fill="#000" >19 Feb 01:30</text>
<rect x="679" y="729" width="1" height="3" fill="#000"/>
<text x="678" y="744" font-size="12.8" fill="#000" >27 Feb 01:30</text>
<rect x="775" y="729" width="1" height="3" fill="#000"/>
<text x="774" y="744" font-size="12.8" fill="#000" >7 Mar 01:30</text>
<rect x="871" y="729" width="1" height="3" fill="#000"/>
<text x="870" y="744" font-size="12.8" fill="#000" >15 Mar 01:30</text>
<rect x="967" y="729" width="1" height="3" fill="#000"/>
<text x="966" y="744" font-size="12.8" fill="#000" >25 Mar 01:30</text>
<rect x="1063" y="729" width="1" height="3" fill="#000"/>
<text x="1062" y="744" font-size="12.8" fill="#000" >2 Apr 01:30</text>
<rect x="1159" y="729" width="1" height="3" fill="#000"/>
<text x="1158" y="744" font-size="12.8" fill="#000" >11 Apr 01:30</text>
<rect x="1255" y="729" width="1" height="3" fill="#000"/>
<text x="1254" y="744" font-size="12.8" fill="#000" >19 Apr 01:30</text>
<g fill="none" stroke="#4d4d4d" stroke-width="1.3" shape-rendering="geometricPrecision"><path d="M4.8,17.3 L15,7.6"/><path d="M11.6,23.9 L23,13.2"/><path d="M6.3,22.3 L11,18"/><path d="M9,13.5 Q7.5,17 8.3,21.3"/><path d="M12.6,10.8 Q11,15 11.8,19.5"/><path d="M16.3,9.5 Q14.5,13 15.4,17.5"/><path d="M19.8,5.2 L19.6,12.5 L21.5,10.5"/></g>
<text x="19" y="26.8" font-size="9" font-weight="bold" fill="#4d4d4d">E</text>
<g shape-rendering="geometricPrecision">
<rect x="40.4" y="6" width="1.7" height="2" fill="#4a4a4a" />
<rect x="43.0" y="6" width="1.5" height="2" fill="#8c8c8c" />
<rect x="45.6" y="6" width="1.7" height="2" fill="#4a4a4a" />
<rect x="48.0" y="6" width="1.5" height="2" fill="#8c8c8c" />
<rect x="50.6" y="6" width="1.7" height="2" fill="#4a4a4a" />
<rect x="53.0" y="6" width="1.5" height="2" fill="#8c8c8c" />
<rect x="55.6" y="6" width="1.7" height="2" fill="#4a4a4a" />
<rect x="40.4" y="10" width="1.7" height="2" fill="#4a4a4a" />
<rect x="43.0" y="10" width="1.5" height="2" fill="#8c8c8c" />
<rect x="45.6" y="10" width="1.7" height="2" fill="#4a4a4a" />
<rect x="48.0" y="10" width="1.5" height="2" fill="#8c8c8c" />
<rect x="50.6" y="10" width="1.7" height="2" fill="#4a4a4a" />
<rect x="53.0" y="10" width="1.5" height="2" fill="#8c8c8c" />
<rect x="55.6" y="10" width="1.7" height="2" fill="#4a4a4a" />
<rect x="40.4" y="15" width="1.7" height="2" fill="#4a4a4a" />
<rect x="43.0" y="15" width="1.5" height="2" fill="#8c8c8c" />
<rect x="45.6" y="15" width="1.7" height="2" fill="#4a4a4a" />
<rect x="48.0" y="15" width="1.5" height="2" fill="#8c8c8c" />
<rect x="50.6" y="15" width="1.7" height="2" fill="#4a4a4a" />
<rect x="53.0" y="15" width="1.5" height="2" fill="#8c8c8c" />
<rect x="55.6" y="15" width="1.7" height="2" fill="#4a4a4a" />
<rect x="40.4" y="20" width="1.7" height="2" fill="#4a4a4a" />
<rect x="43.0" y="20" width="1.5" height="2" fill="#8c8c8c" />
<rect x="45.6" y="20" width="1.7" height="2" fill="#4a4a4a" />
<rect x="48.0" y="20" width="1.5" height="2" fill="#8c8c8c" />
<rect x="50.6" y="20" width="1.7" height="2" fill="#4a4a4a" />
</g>
<text x="52.6" y="26.8" font-size="9" font-weight="bold" fill="#4d4d4d">F</text>
<path d="M78.8,21.3 L82.3,10.6 L83.9,10.6 L87.4,21.3 M80.3,17.3 L86,17.3" fill="none" stroke="#444" stroke-width="1.9" shape-rendering="geometricPrecision"/>
<rect x="110" y="8" width="14.5" height="15.5" fill="none" stroke="#555" stroke-width="1" stroke-dasharray="1,1.6"/>
<rect x="108.5" y="6" width="3.5" height="3" fill="#666"/>
<rect x="112.5" y="11" width="10" height="2" fill="#777"/><rect x="116.2" y="11" width="2.7" height="10.5" fill="#777"/>
<g fill="#4d4d4d" shape-rendering="geometricPrecision"><path d="M147.1,7.6 L151.6,12.8 L142.5,12.8 Z"/><rect x="145.2" y="12.5" width="3.6" height="1.5"/><path d="M155.8,23.8 L160.4,19.3 L151.4,19.3 Z"/><rect x="154" y="18" width="4" height="1.6"/></g>
<path d="M145.4,16.8 L148.4,19.3 L153.8,13.1" fill="none" stroke="#4d4d4d" stroke-width="1.8" shape-rendering="geometricPrecision"/>
<path d="M166,14 L173,14 L169.5,17.8 Z" fill="#000" shape-rendering="geometricPrecision"/>
<rect x="181" y="0" width="1" height="30" fill="#a0a0a0"/>
<rect x="182" y="0" width="1" height="30" fill="#ffffff"/>
<rect x="185" y="2" width="3" height="1" fill="#a8a8a8"/>
<rect x="185" y="4" width="3" height="1" fill="#a8a8a8"/>
<rect x="185" y="6" width="3" height="1" fill="#a8a8a8"/>
<rect x="185" y="8" width="3" height="1" fill="#a8a8a8"/>
<rect x="185" y="10" width="3" height="1" fill="#a8a8a8"/>
<rect x="185" y="12" width="3" height="1" fill="#a8a8a8"/>
<rect x="185" y="14" width="3" height="1" fill="#a8a8a8"/>
<rect x="185" y="16" width="3" height="1" fill="#a8a8a8"/>
<rect x="185" y="18" width="3" height="1" fill="#a8a8a8"/>
<rect x="185" y="20" width="3" height="1" fill="#a8a8a8"/>
<rect x="185" y="22" width="3" height="1" fill="#a8a8a8"/>
<rect x="185" y="24" width="3" height="1" fill="#a8a8a8"/>
<rect x="185" y="26" width="3" height="1" fill="#a8a8a8"/>
<rect x="185" y="28" width="3" height="1" fill="#a8a8a8"/>
<rect x="496" y="0" width="1" height="30" fill="#a0a0a0"/>
<rect x="497" y="0" width="1" height="30" fill="#ffffff"/>
<rect x="361" y="0" width="31" height="29" fill="#f8f8f8" />
<rect x="361" y="0" width="31" height="1" fill="#a0a0a0"/>
<rect x="361" y="0" width="1" height="29" fill="#a0a0a0"/>
<rect x="392" y="0" width="1" height="30" fill="#ffffff"/>
<rect x="361" y="29" width="32" height="1" fill="#ffffff"/>
<text x="197.5" y="20" font-size="12.6" fill="#444">M1</text>
<text x="231.5" y="20" font-size="12.6" fill="#444">M5</text>
<text x="263.5" y="20" font-size="12.6" fill="#444">M15</text>
<text x="297" y="20" font-size="12.6" fill="#444">M30</text>
<text x="335" y="20" font-size="12.6" fill="#444">H1</text>
<text x="368" y="20" font-size="12.6" fill="#444">H4</text>
<text x="403" y="20" font-size="12.6" fill="#444">D1</text>
<text x="436.5" y="20" font-size="12.6" fill="#444">W1</text>
<text x="468.5" y="20" font-size="12.6" fill="#444">MN</text>
<defs><linearGradient id="gt" x1="0" y1="0" x2="0" y2="1"><stop offset="0" stop-color="#fa5656"/><stop offset="1" stop-color="#e13434"/></linearGradient><linearGradient id="gb" x1="0" y1="0" x2="0" y2="1"><stop offset="0" stop-color="#e23232"/><stop offset="1" stop-color="#a80000"/></linearGradient><linearGradient id="ga" x1="0" y1="0" x2="0" y2="1"><stop offset="0" stop-color="#6a7ad8"/><stop offset="1" stop-color="#3c4a98"/></linearGradient></defs>
<rect x="8" y="56" width="287" height="80" fill="#ffffff" />
<rect x="10" y="58" width="68" height="28" fill="url(#gt)" />
<rect x="10" y="85" width="141" height="49" fill="url(#gb)" />
<rect x="10" y="58" width="68" height="1" fill="#b00000"/>
<rect x="10" y="58" width="1" height="76" fill="#b00000"/>
<rect x="77" y="58" width="1" height="28" fill="#b00000"/>
<rect x="77" y="85" width="74" height="1" fill="#b80000"/>
<rect x="150" y="86" width="1" height="48" fill="#a00000"/>
<rect x="10" y="133" width="141" height="1" fill="#a00000"/>
<rect x="14" y="84" width="60" height="1" fill="#8a0000"/>
<rect x="14" y="85" width="60" height="1" fill="#f06a6a"/>
<rect x="225" y="58" width="68" height="28" fill="url(#gt)" />
<rect x="153" y="85" width="140" height="49" fill="url(#gb)" />
<rect x="225" y="58" width="68" height="1" fill="#b00000"/>
<rect x="292" y="58" width="1" height="76" fill="#b00000"/>
<rect x="225" y="58" width="1" height="28" fill="#b00000"/>
<rect x="153" y="85" width="73" height="1" fill="#b80000"/>
<rect x="153" y="86" width="1" height="48" fill="#a00000"/>
<rect x="153" y="133" width="140" height="1" fill="#a00000"/>
<rect x="229" y="84" width="60" height="1" fill="#8a0000"/>
<rect x="229" y="85" width="60" height="1" fill="#f06a6a"/>
<rect x="80.5" y="58.5" width="142" height="24" fill="#fff" stroke="#a7a9b0"/>
<rect x="81" y="59" width="23" height="7" fill="#f0f0f0" />
<rect x="81" y="66" width="23" height="16" fill="#d6d6d6" />
<rect x="104" y="59" width="1" height="23" fill="#a7a9b0"/>
<rect x="199" y="59" width="23" height="7" fill="#f0f0f0" />
<rect x="199" y="66" width="23" height="16" fill="#d6d6d6" />
<rect x="198" y="59" width="1" height="23" fill="#a7a9b0"/>
<path d="M88.8,69 L96.2,69 L92.5,73.2 Z" fill="url(#ga)" shape-rendering="geometricPrecision"/>
<path d="M206.8,72.2 L214.4,72.2 L210.6,67.8 Z" fill="url(#ga)" shape-rendering="geometricPrecision"/>
<text x="164" y="75.7" font-size="15" fill="#000">1.00</text>
<text x="27.5" y="77" font-size="15" fill="#fff" textLength="32" lengthAdjust="spacingAndGlyphs">SELL</text>
<text x="244.2" y="77" font-size="15" fill="#fff" textLength="28.5" lengthAdjust="spacingAndGlyphs">BUY</text>
<text x="40" y="123" font-size="16.8" font-weight="bold" fill="#fff">3888</text>
<text x="77.6" y="123" font-size="42" fill="#fff">.4</text>
<text x="182" y="123" font-size="16.8" font-weight="bold" fill="#fff">3894</text>
<text x="221.6" y="123" font-size="42" fill="#fff">.0</text>
</svg>
</body></html>
